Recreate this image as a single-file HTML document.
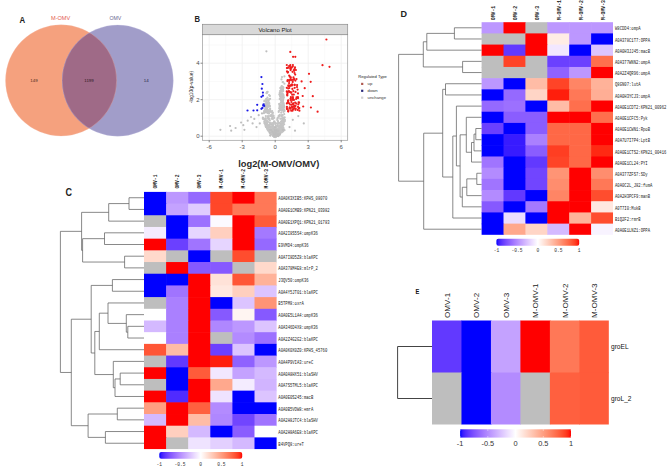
<!DOCTYPE html>
<html><head><meta charset="utf-8"><style>
html,body{margin:0;padding:0;background:#fff;}
body{width:667px;height:467px;overflow:hidden;font-family:"Liberation Sans", sans-serif;}
svg{display:block;}
</style></head><body>
<svg width="667" height="467" viewBox="0 0 667 467">
<rect width="667" height="467" fill="#fff"/>
<circle cx="61.1" cy="80.4" r="55.6" fill="#F5A17E"/>
<circle cx="117.7" cy="80.6" r="55.6" fill="#A19DC9"/>
<clipPath id="cl"><circle cx="61.1" cy="80.4" r="55.6"/></clipPath>
<circle cx="117.7" cy="80.6" r="55.6" fill="#9F6A87" clip-path="url(#cl)"/>
<circle cx="61.1" cy="80.4" r="55.6" fill="none" stroke="#F2C0B0" stroke-opacity="0.45" stroke-width="0.6"/>
<circle cx="117.7" cy="80.6" r="55.6" fill="none" stroke="#C8C4E4" stroke-opacity="0.45" stroke-width="0.6"/>
<text transform="translate(19.4 23.3) scale(0.9 1)" font-family='"Liberation Sans", sans-serif' font-weight="bold" font-size="8.7" fill="#222">A</text>
<text x="51" y="20.2" font-family='"Liberation Sans", sans-serif' font-size="5.6" fill="#E45C50">M-OMV</text>
<text x="109.5" y="20.2" font-family='"Liberation Sans", sans-serif' font-size="5.2" fill="#6A6690">OMV</text>
<text x="34" y="82.2" text-anchor="middle" font-family='"Liberation Sans", sans-serif' font-size="4.4" fill="#4a2a1a">149</text>
<text x="89" y="82.2" text-anchor="middle" font-family='"Liberation Sans", sans-serif' font-size="4.4" fill="#2a1520">1199</text>
<text x="146.2" y="82.2" text-anchor="middle" font-family='"Liberation Sans", sans-serif' font-size="4.4" fill="#222244">14</text>
<rect x="202.5" y="34.7" width="145.2" height="105.60000000000001" fill="#fff"/>
<line x1="225.7" y1="34.7" x2="225.7" y2="140.3" stroke="#F6F6F6" stroke-width="0.6"/>
<line x1="258.7" y1="34.7" x2="258.7" y2="140.3" stroke="#F6F6F6" stroke-width="0.6"/>
<line x1="291.7" y1="34.7" x2="291.7" y2="140.3" stroke="#F6F6F6" stroke-width="0.6"/>
<line x1="324.7" y1="34.7" x2="324.7" y2="140.3" stroke="#F6F6F6" stroke-width="0.6"/>
<line x1="202.5" y1="117.94999999999999" x2="347.7" y2="117.94999999999999" stroke="#F6F6F6" stroke-width="0.6"/>
<line x1="202.5" y1="81.44999999999999" x2="347.7" y2="81.44999999999999" stroke="#F6F6F6" stroke-width="0.6"/>
<line x1="202.5" y1="44.94999999999999" x2="347.7" y2="44.94999999999999" stroke="#F6F6F6" stroke-width="0.6"/>
<line x1="209.2" y1="34.7" x2="209.2" y2="140.3" stroke="#EFEFEF" stroke-width="0.8"/>
<line x1="242.2" y1="34.7" x2="242.2" y2="140.3" stroke="#EFEFEF" stroke-width="0.8"/>
<line x1="275.2" y1="34.7" x2="275.2" y2="140.3" stroke="#EFEFEF" stroke-width="0.8"/>
<line x1="308.2" y1="34.7" x2="308.2" y2="140.3" stroke="#EFEFEF" stroke-width="0.8"/>
<line x1="341.2" y1="34.7" x2="341.2" y2="140.3" stroke="#EFEFEF" stroke-width="0.8"/>
<line x1="202.5" y1="136.2" x2="347.7" y2="136.2" stroke="#EFEFEF" stroke-width="0.8"/>
<line x1="202.5" y1="99.69999999999999" x2="347.7" y2="99.69999999999999" stroke="#EFEFEF" stroke-width="0.8"/>
<line x1="202.5" y1="63.19999999999999" x2="347.7" y2="63.19999999999999" stroke="#EFEFEF" stroke-width="0.8"/>
<circle cx="271.2" cy="112.0" r="1.1" fill="#C4C4C4"/>
<circle cx="268.0" cy="126.3" r="1.1" fill="#C4C4C4"/>
<circle cx="274.5" cy="136.1" r="1.1" fill="#C4C4C4"/>
<circle cx="267.8" cy="130.0" r="1.1" fill="#C4C4C4"/>
<circle cx="276.3" cy="136.1" r="1.1" fill="#C4C4C4"/>
<circle cx="265.7" cy="120.3" r="1.1" fill="#C4C4C4"/>
<circle cx="275.8" cy="129.1" r="1.1" fill="#C4C4C4"/>
<circle cx="269.2" cy="106.1" r="1.1" fill="#C4C4C4"/>
<circle cx="271.9" cy="130.4" r="1.1" fill="#C4C4C4"/>
<circle cx="263.5" cy="119.1" r="1.1" fill="#C4C4C4"/>
<circle cx="267.1" cy="124.7" r="1.1" fill="#C4C4C4"/>
<circle cx="265.7" cy="107.3" r="1.1" fill="#C4C4C4"/>
<circle cx="272.9" cy="118.9" r="1.1" fill="#C4C4C4"/>
<circle cx="275.8" cy="134.3" r="1.1" fill="#C4C4C4"/>
<circle cx="265.4" cy="107.7" r="1.1" fill="#C4C4C4"/>
<circle cx="262.9" cy="117.5" r="1.1" fill="#C4C4C4"/>
<circle cx="269.8" cy="126.7" r="1.1" fill="#C4C4C4"/>
<circle cx="273.4" cy="134.7" r="1.1" fill="#C4C4C4"/>
<circle cx="266.8" cy="111.9" r="1.1" fill="#C4C4C4"/>
<circle cx="275.2" cy="135.4" r="1.1" fill="#C4C4C4"/>
<circle cx="274.1" cy="128.7" r="1.1" fill="#C4C4C4"/>
<circle cx="273.0" cy="134.1" r="1.1" fill="#C4C4C4"/>
<circle cx="268.6" cy="112.3" r="1.1" fill="#C4C4C4"/>
<circle cx="267.7" cy="126.6" r="1.1" fill="#C4C4C4"/>
<circle cx="276.1" cy="136.2" r="1.1" fill="#C4C4C4"/>
<circle cx="275.8" cy="135.9" r="1.1" fill="#C4C4C4"/>
<circle cx="275.8" cy="131.1" r="1.1" fill="#C4C4C4"/>
<circle cx="275.6" cy="130.2" r="1.1" fill="#C4C4C4"/>
<circle cx="266.7" cy="124.6" r="1.1" fill="#C4C4C4"/>
<circle cx="270.3" cy="115.6" r="1.1" fill="#C4C4C4"/>
<circle cx="268.1" cy="118.7" r="1.1" fill="#C4C4C4"/>
<circle cx="274.6" cy="134.4" r="1.1" fill="#C4C4C4"/>
<circle cx="275.3" cy="135.8" r="1.1" fill="#C4C4C4"/>
<circle cx="267.6" cy="121.1" r="1.1" fill="#C4C4C4"/>
<circle cx="265.7" cy="112.3" r="1.1" fill="#C4C4C4"/>
<circle cx="274.5" cy="130.5" r="1.1" fill="#C4C4C4"/>
<circle cx="273.8" cy="130.8" r="1.1" fill="#C4C4C4"/>
<circle cx="274.4" cy="122.2" r="1.1" fill="#C4C4C4"/>
<circle cx="269.0" cy="99.4" r="1.1" fill="#C4C4C4"/>
<circle cx="265.4" cy="111.7" r="1.1" fill="#C4C4C4"/>
<circle cx="272.3" cy="117.2" r="1.1" fill="#C4C4C4"/>
<circle cx="272.3" cy="130.2" r="1.1" fill="#C4C4C4"/>
<circle cx="275.5" cy="127.6" r="1.1" fill="#C4C4C4"/>
<circle cx="272.3" cy="132.4" r="1.1" fill="#C4C4C4"/>
<circle cx="274.7" cy="136.2" r="1.1" fill="#C4C4C4"/>
<circle cx="274.1" cy="121.3" r="1.1" fill="#C4C4C4"/>
<circle cx="267.1" cy="104.3" r="1.1" fill="#C4C4C4"/>
<circle cx="266.3" cy="99.6" r="1.1" fill="#C4C4C4"/>
<circle cx="265.6" cy="110.8" r="1.1" fill="#C4C4C4"/>
<circle cx="268.1" cy="130.1" r="1.1" fill="#C4C4C4"/>
<circle cx="270.1" cy="108.7" r="1.1" fill="#C4C4C4"/>
<circle cx="274.6" cy="135.5" r="1.1" fill="#C4C4C4"/>
<circle cx="273.6" cy="133.7" r="1.1" fill="#C4C4C4"/>
<circle cx="265.2" cy="124.8" r="1.1" fill="#C4C4C4"/>
<circle cx="266.8" cy="108.2" r="1.1" fill="#C4C4C4"/>
<circle cx="267.1" cy="128.7" r="1.1" fill="#C4C4C4"/>
<circle cx="274.1" cy="136.2" r="1.1" fill="#C4C4C4"/>
<circle cx="275.7" cy="131.8" r="1.1" fill="#C4C4C4"/>
<circle cx="267.8" cy="106.6" r="1.1" fill="#C4C4C4"/>
<circle cx="272.8" cy="128.5" r="1.1" fill="#C4C4C4"/>
<circle cx="267.1" cy="108.6" r="1.1" fill="#C4C4C4"/>
<circle cx="267.6" cy="112.6" r="1.1" fill="#C4C4C4"/>
<circle cx="272.2" cy="123.0" r="1.1" fill="#C4C4C4"/>
<circle cx="272.6" cy="126.8" r="1.1" fill="#C4C4C4"/>
<circle cx="262.9" cy="118.0" r="1.1" fill="#C4C4C4"/>
<circle cx="273.9" cy="136.1" r="1.1" fill="#C4C4C4"/>
<circle cx="272.7" cy="134.5" r="1.1" fill="#C4C4C4"/>
<circle cx="274.1" cy="136.1" r="1.1" fill="#C4C4C4"/>
<circle cx="273.8" cy="122.7" r="1.1" fill="#C4C4C4"/>
<circle cx="271.6" cy="131.6" r="1.1" fill="#C4C4C4"/>
<circle cx="273.3" cy="129.7" r="1.1" fill="#C4C4C4"/>
<circle cx="272.6" cy="113.1" r="1.1" fill="#C4C4C4"/>
<circle cx="273.8" cy="130.9" r="1.1" fill="#C4C4C4"/>
<circle cx="275.0" cy="131.8" r="1.1" fill="#C4C4C4"/>
<circle cx="275.6" cy="134.2" r="1.1" fill="#C4C4C4"/>
<circle cx="272.9" cy="126.7" r="1.1" fill="#C4C4C4"/>
<circle cx="268.0" cy="125.5" r="1.1" fill="#C4C4C4"/>
<circle cx="266.0" cy="127.1" r="1.1" fill="#C4C4C4"/>
<circle cx="275.0" cy="136.1" r="1.1" fill="#C4C4C4"/>
<circle cx="274.2" cy="127.7" r="1.1" fill="#C4C4C4"/>
<circle cx="275.1" cy="136.2" r="1.1" fill="#C4C4C4"/>
<circle cx="271.7" cy="127.2" r="1.1" fill="#C4C4C4"/>
<circle cx="268.8" cy="116.3" r="1.1" fill="#C4C4C4"/>
<circle cx="269.6" cy="124.3" r="1.1" fill="#C4C4C4"/>
<circle cx="266.3" cy="122.0" r="1.1" fill="#C4C4C4"/>
<circle cx="271.8" cy="124.8" r="1.1" fill="#C4C4C4"/>
<circle cx="276.2" cy="134.8" r="1.1" fill="#C4C4C4"/>
<circle cx="273.2" cy="115.4" r="1.1" fill="#C4C4C4"/>
<circle cx="272.9" cy="133.0" r="1.1" fill="#C4C4C4"/>
<circle cx="271.2" cy="133.6" r="1.1" fill="#C4C4C4"/>
<circle cx="274.2" cy="136.2" r="1.1" fill="#C4C4C4"/>
<circle cx="266.0" cy="108.4" r="1.1" fill="#C4C4C4"/>
<circle cx="265.6" cy="118.4" r="1.1" fill="#C4C4C4"/>
<circle cx="273.9" cy="136.0" r="1.1" fill="#C4C4C4"/>
<circle cx="268.6" cy="119.0" r="1.1" fill="#C4C4C4"/>
<circle cx="269.3" cy="124.9" r="1.1" fill="#C4C4C4"/>
<circle cx="273.4" cy="133.4" r="1.1" fill="#C4C4C4"/>
<circle cx="266.6" cy="104.4" r="1.1" fill="#C4C4C4"/>
<circle cx="265.8" cy="116.1" r="1.1" fill="#C4C4C4"/>
<circle cx="273.5" cy="134.8" r="1.1" fill="#C4C4C4"/>
<circle cx="276.1" cy="135.9" r="1.1" fill="#C4C4C4"/>
<circle cx="269.8" cy="131.2" r="1.1" fill="#C4C4C4"/>
<circle cx="273.7" cy="136.2" r="1.1" fill="#C4C4C4"/>
<circle cx="273.7" cy="134.5" r="1.1" fill="#C4C4C4"/>
<circle cx="274.9" cy="122.7" r="1.1" fill="#C4C4C4"/>
<circle cx="266.7" cy="106.5" r="1.1" fill="#C4C4C4"/>
<circle cx="274.2" cy="122.2" r="1.1" fill="#C4C4C4"/>
<circle cx="275.8" cy="135.8" r="1.1" fill="#C4C4C4"/>
<circle cx="274.3" cy="130.3" r="1.1" fill="#C4C4C4"/>
<circle cx="273.7" cy="132.3" r="1.1" fill="#C4C4C4"/>
<circle cx="266.2" cy="126.6" r="1.1" fill="#C4C4C4"/>
<circle cx="271.7" cy="114.6" r="1.1" fill="#C4C4C4"/>
<circle cx="269.7" cy="127.5" r="1.1" fill="#C4C4C4"/>
<circle cx="267.2" cy="102.6" r="1.1" fill="#C4C4C4"/>
<circle cx="267.5" cy="107.3" r="1.1" fill="#C4C4C4"/>
<circle cx="271.1" cy="131.0" r="1.1" fill="#C4C4C4"/>
<circle cx="274.2" cy="136.1" r="1.1" fill="#C4C4C4"/>
<circle cx="271.8" cy="134.2" r="1.1" fill="#C4C4C4"/>
<circle cx="269.3" cy="125.2" r="1.1" fill="#C4C4C4"/>
<circle cx="274.0" cy="136.2" r="1.1" fill="#C4C4C4"/>
<circle cx="266.3" cy="104.6" r="1.1" fill="#C4C4C4"/>
<circle cx="275.8" cy="131.0" r="1.1" fill="#C4C4C4"/>
<circle cx="274.4" cy="135.7" r="1.1" fill="#C4C4C4"/>
<circle cx="264.1" cy="112.2" r="1.1" fill="#C4C4C4"/>
<circle cx="276.1" cy="136.0" r="1.1" fill="#C4C4C4"/>
<circle cx="265.7" cy="118.7" r="1.1" fill="#C4C4C4"/>
<circle cx="268.3" cy="127.6" r="1.1" fill="#C4C4C4"/>
<circle cx="269.8" cy="106.4" r="1.1" fill="#C4C4C4"/>
<circle cx="274.9" cy="136.0" r="1.1" fill="#C4C4C4"/>
<circle cx="273.9" cy="134.9" r="1.1" fill="#C4C4C4"/>
<circle cx="270.7" cy="115.6" r="1.1" fill="#C4C4C4"/>
<circle cx="273.5" cy="134.9" r="1.1" fill="#C4C4C4"/>
<circle cx="270.5" cy="129.4" r="1.1" fill="#C4C4C4"/>
<circle cx="271.9" cy="118.8" r="1.1" fill="#C4C4C4"/>
<circle cx="272.3" cy="132.0" r="1.1" fill="#C4C4C4"/>
<circle cx="274.4" cy="136.0" r="1.1" fill="#C4C4C4"/>
<circle cx="267.8" cy="102.7" r="1.1" fill="#C4C4C4"/>
<circle cx="271.0" cy="124.6" r="1.1" fill="#C4C4C4"/>
<circle cx="273.2" cy="124.2" r="1.1" fill="#C4C4C4"/>
<circle cx="272.6" cy="133.7" r="1.1" fill="#C4C4C4"/>
<circle cx="267.9" cy="106.8" r="1.1" fill="#C4C4C4"/>
<circle cx="266.1" cy="101.7" r="1.1" fill="#C4C4C4"/>
<circle cx="268.2" cy="113.3" r="1.1" fill="#C4C4C4"/>
<circle cx="274.7" cy="127.8" r="1.1" fill="#C4C4C4"/>
<circle cx="274.6" cy="135.6" r="1.1" fill="#C4C4C4"/>
<circle cx="272.9" cy="133.9" r="1.1" fill="#C4C4C4"/>
<circle cx="267.5" cy="111.2" r="1.1" fill="#C4C4C4"/>
<circle cx="263.9" cy="113.2" r="1.1" fill="#C4C4C4"/>
<circle cx="270.1" cy="98.8" r="1.1" fill="#C4C4C4"/>
<circle cx="265.0" cy="119.0" r="1.1" fill="#C4C4C4"/>
<circle cx="265.2" cy="120.1" r="1.1" fill="#C4C4C4"/>
<circle cx="268.5" cy="131.0" r="1.1" fill="#C4C4C4"/>
<circle cx="273.8" cy="136.0" r="1.1" fill="#C4C4C4"/>
<circle cx="275.6" cy="135.0" r="1.1" fill="#C4C4C4"/>
<circle cx="275.4" cy="134.0" r="1.1" fill="#C4C4C4"/>
<circle cx="273.7" cy="136.2" r="1.1" fill="#C4C4C4"/>
<circle cx="276.1" cy="136.1" r="1.1" fill="#C4C4C4"/>
<circle cx="264.4" cy="111.2" r="1.1" fill="#C4C4C4"/>
<circle cx="266.6" cy="103.7" r="1.1" fill="#C4C4C4"/>
<circle cx="274.0" cy="133.6" r="1.1" fill="#C4C4C4"/>
<circle cx="276.2" cy="134.6" r="1.1" fill="#C4C4C4"/>
<circle cx="272.9" cy="131.2" r="1.1" fill="#C4C4C4"/>
<circle cx="267.1" cy="123.9" r="1.1" fill="#C4C4C4"/>
<circle cx="273.7" cy="116.0" r="1.1" fill="#C4C4C4"/>
<circle cx="264.5" cy="122.9" r="1.1" fill="#C4C4C4"/>
<circle cx="269.9" cy="111.8" r="1.1" fill="#C4C4C4"/>
<circle cx="272.3" cy="127.2" r="1.1" fill="#C4C4C4"/>
<circle cx="272.5" cy="133.6" r="1.1" fill="#C4C4C4"/>
<circle cx="265.7" cy="126.3" r="1.1" fill="#C4C4C4"/>
<circle cx="265.8" cy="123.3" r="1.1" fill="#C4C4C4"/>
<circle cx="275.7" cy="133.8" r="1.1" fill="#C4C4C4"/>
<circle cx="266.5" cy="123.3" r="1.1" fill="#C4C4C4"/>
<circle cx="274.1" cy="117.9" r="1.1" fill="#C4C4C4"/>
<circle cx="269.0" cy="106.1" r="1.1" fill="#C4C4C4"/>
<circle cx="273.3" cy="132.1" r="1.1" fill="#C4C4C4"/>
<circle cx="264.7" cy="123.4" r="1.1" fill="#C4C4C4"/>
<circle cx="268.7" cy="118.2" r="1.1" fill="#C4C4C4"/>
<circle cx="272.9" cy="126.0" r="1.1" fill="#C4C4C4"/>
<circle cx="274.0" cy="136.0" r="1.1" fill="#C4C4C4"/>
<circle cx="266.8" cy="99.7" r="1.1" fill="#C4C4C4"/>
<circle cx="271.4" cy="133.8" r="1.1" fill="#C4C4C4"/>
<circle cx="273.4" cy="132.5" r="1.1" fill="#C4C4C4"/>
<circle cx="274.3" cy="136.1" r="1.1" fill="#C4C4C4"/>
<circle cx="271.8" cy="133.7" r="1.1" fill="#C4C4C4"/>
<circle cx="272.8" cy="112.7" r="1.1" fill="#C4C4C4"/>
<circle cx="267.5" cy="104.8" r="1.1" fill="#C4C4C4"/>
<circle cx="274.4" cy="136.0" r="1.1" fill="#C4C4C4"/>
<circle cx="268.9" cy="125.9" r="1.1" fill="#C4C4C4"/>
<circle cx="271.1" cy="116.2" r="1.1" fill="#C4C4C4"/>
<circle cx="267.7" cy="106.1" r="1.1" fill="#C4C4C4"/>
<circle cx="275.8" cy="134.1" r="1.1" fill="#C4C4C4"/>
<circle cx="266.1" cy="106.9" r="1.1" fill="#C4C4C4"/>
<circle cx="274.8" cy="134.5" r="1.1" fill="#C4C4C4"/>
<circle cx="272.1" cy="111.0" r="1.1" fill="#C4C4C4"/>
<circle cx="274.1" cy="136.2" r="1.1" fill="#C4C4C4"/>
<circle cx="272.0" cy="129.5" r="1.1" fill="#C4C4C4"/>
<circle cx="269.0" cy="113.5" r="1.1" fill="#C4C4C4"/>
<circle cx="267.4" cy="126.1" r="1.1" fill="#C4C4C4"/>
<circle cx="269.8" cy="120.4" r="1.1" fill="#C4C4C4"/>
<circle cx="266.4" cy="102.7" r="1.1" fill="#C4C4C4"/>
<circle cx="274.1" cy="135.6" r="1.1" fill="#C4C4C4"/>
<circle cx="272.5" cy="132.2" r="1.1" fill="#C4C4C4"/>
<circle cx="275.1" cy="135.1" r="1.1" fill="#C4C4C4"/>
<circle cx="264.4" cy="110.9" r="1.1" fill="#C4C4C4"/>
<circle cx="266.2" cy="105.2" r="1.1" fill="#C4C4C4"/>
<circle cx="273.0" cy="132.7" r="1.1" fill="#C4C4C4"/>
<circle cx="269.0" cy="129.5" r="1.1" fill="#C4C4C4"/>
<circle cx="272.1" cy="116.3" r="1.1" fill="#C4C4C4"/>
<circle cx="272.3" cy="134.3" r="1.1" fill="#C4C4C4"/>
<circle cx="266.4" cy="126.1" r="1.1" fill="#C4C4C4"/>
<circle cx="269.3" cy="103.2" r="1.1" fill="#C4C4C4"/>
<circle cx="267.6" cy="110.1" r="1.1" fill="#C4C4C4"/>
<circle cx="267.5" cy="113.0" r="1.1" fill="#C4C4C4"/>
<circle cx="267.4" cy="128.4" r="1.1" fill="#C4C4C4"/>
<circle cx="275.4" cy="136.1" r="1.1" fill="#C4C4C4"/>
<circle cx="276.1" cy="134.8" r="1.1" fill="#C4C4C4"/>
<circle cx="270.6" cy="124.3" r="1.1" fill="#C4C4C4"/>
<circle cx="267.0" cy="106.3" r="1.1" fill="#C4C4C4"/>
<circle cx="274.2" cy="136.2" r="1.1" fill="#C4C4C4"/>
<circle cx="267.8" cy="128.4" r="1.1" fill="#C4C4C4"/>
<circle cx="274.7" cy="133.3" r="1.1" fill="#C4C4C4"/>
<circle cx="270.9" cy="130.9" r="1.1" fill="#C4C4C4"/>
<circle cx="274.0" cy="134.2" r="1.1" fill="#C4C4C4"/>
<circle cx="266.2" cy="99.1" r="1.1" fill="#C4C4C4"/>
<circle cx="270.1" cy="109.6" r="1.1" fill="#C4C4C4"/>
<circle cx="269.8" cy="122.7" r="1.1" fill="#C4C4C4"/>
<circle cx="265.9" cy="126.1" r="1.1" fill="#C4C4C4"/>
<circle cx="275.3" cy="124.1" r="1.1" fill="#C4C4C4"/>
<circle cx="268.1" cy="116.3" r="1.1" fill="#C4C4C4"/>
<circle cx="274.8" cy="128.9" r="1.1" fill="#C4C4C4"/>
<circle cx="274.1" cy="136.2" r="1.1" fill="#C4C4C4"/>
<circle cx="268.5" cy="101.9" r="1.1" fill="#C4C4C4"/>
<circle cx="268.6" cy="110.6" r="1.1" fill="#C4C4C4"/>
<circle cx="275.0" cy="136.1" r="1.1" fill="#C4C4C4"/>
<circle cx="264.3" cy="121.4" r="1.1" fill="#C4C4C4"/>
<circle cx="275.3" cy="127.6" r="1.1" fill="#C4C4C4"/>
<circle cx="273.5" cy="136.1" r="1.1" fill="#C4C4C4"/>
<circle cx="275.3" cy="135.8" r="1.1" fill="#C4C4C4"/>
<circle cx="266.3" cy="106.4" r="1.1" fill="#C4C4C4"/>
<circle cx="266.3" cy="109.5" r="1.1" fill="#C4C4C4"/>
<circle cx="273.0" cy="125.4" r="1.1" fill="#C4C4C4"/>
<circle cx="274.6" cy="135.7" r="1.1" fill="#C4C4C4"/>
<circle cx="267.2" cy="108.1" r="1.1" fill="#C4C4C4"/>
<circle cx="268.1" cy="112.4" r="1.1" fill="#C4C4C4"/>
<circle cx="267.4" cy="102.9" r="1.1" fill="#C4C4C4"/>
<circle cx="264.9" cy="110.9" r="1.1" fill="#C4C4C4"/>
<circle cx="270.2" cy="131.9" r="1.1" fill="#C4C4C4"/>
<circle cx="271.0" cy="130.1" r="1.1" fill="#C4C4C4"/>
<circle cx="273.4" cy="134.0" r="1.1" fill="#C4C4C4"/>
<circle cx="269.4" cy="118.8" r="1.1" fill="#C4C4C4"/>
<circle cx="274.8" cy="134.0" r="1.1" fill="#C4C4C4"/>
<circle cx="267.6" cy="117.4" r="1.1" fill="#C4C4C4"/>
<circle cx="268.0" cy="128.3" r="1.1" fill="#C4C4C4"/>
<circle cx="267.2" cy="110.1" r="1.1" fill="#C4C4C4"/>
<circle cx="275.8" cy="133.0" r="1.1" fill="#C4C4C4"/>
<circle cx="271.2" cy="132.7" r="1.1" fill="#C4C4C4"/>
<circle cx="272.2" cy="130.7" r="1.1" fill="#C4C4C4"/>
<circle cx="268.0" cy="122.1" r="1.1" fill="#C4C4C4"/>
<circle cx="262.9" cy="118.7" r="1.1" fill="#C4C4C4"/>
<circle cx="267.6" cy="104.1" r="1.1" fill="#C4C4C4"/>
<circle cx="270.8" cy="128.7" r="1.1" fill="#C4C4C4"/>
<circle cx="275.2" cy="133.4" r="1.1" fill="#C4C4C4"/>
<circle cx="267.4" cy="128.5" r="1.1" fill="#C4C4C4"/>
<circle cx="272.4" cy="131.6" r="1.1" fill="#C4C4C4"/>
<circle cx="269.4" cy="131.4" r="1.1" fill="#C4C4C4"/>
<circle cx="266.3" cy="106.6" r="1.1" fill="#C4C4C4"/>
<circle cx="267.7" cy="116.3" r="1.1" fill="#C4C4C4"/>
<circle cx="272.5" cy="127.0" r="1.1" fill="#C4C4C4"/>
<circle cx="274.9" cy="136.2" r="1.1" fill="#C4C4C4"/>
<circle cx="270.4" cy="128.3" r="1.1" fill="#C4C4C4"/>
<circle cx="273.6" cy="136.2" r="1.1" fill="#C4C4C4"/>
<circle cx="270.3" cy="127.2" r="1.1" fill="#C4C4C4"/>
<circle cx="270.1" cy="132.0" r="1.1" fill="#C4C4C4"/>
<circle cx="273.7" cy="131.2" r="1.1" fill="#C4C4C4"/>
<circle cx="270.5" cy="111.1" r="1.1" fill="#C4C4C4"/>
<circle cx="274.5" cy="136.2" r="1.1" fill="#C4C4C4"/>
<circle cx="274.0" cy="127.2" r="1.1" fill="#C4C4C4"/>
<circle cx="273.2" cy="124.3" r="1.1" fill="#C4C4C4"/>
<circle cx="263.5" cy="118.4" r="1.1" fill="#C4C4C4"/>
<circle cx="268.1" cy="100.2" r="1.1" fill="#C4C4C4"/>
<circle cx="266.5" cy="122.6" r="1.1" fill="#C4C4C4"/>
<circle cx="269.7" cy="105.7" r="1.1" fill="#C4C4C4"/>
<circle cx="272.5" cy="131.8" r="1.1" fill="#C4C4C4"/>
<circle cx="275.6" cy="136.1" r="1.1" fill="#C4C4C4"/>
<circle cx="265.8" cy="120.7" r="1.1" fill="#C4C4C4"/>
<circle cx="268.7" cy="110.4" r="1.1" fill="#C4C4C4"/>
<circle cx="269.1" cy="103.9" r="1.1" fill="#C4C4C4"/>
<circle cx="273.9" cy="135.8" r="1.1" fill="#C4C4C4"/>
<circle cx="265.0" cy="109.3" r="1.1" fill="#C4C4C4"/>
<circle cx="276.0" cy="135.6" r="1.1" fill="#C4C4C4"/>
<circle cx="266.3" cy="111.6" r="1.1" fill="#C4C4C4"/>
<circle cx="269.4" cy="131.9" r="1.1" fill="#C4C4C4"/>
<circle cx="273.0" cy="135.6" r="1.1" fill="#C4C4C4"/>
<circle cx="270.8" cy="123.3" r="1.1" fill="#C4C4C4"/>
<circle cx="275.7" cy="135.4" r="1.1" fill="#C4C4C4"/>
<circle cx="271.8" cy="127.3" r="1.1" fill="#C4C4C4"/>
<circle cx="265.3" cy="119.8" r="1.1" fill="#C4C4C4"/>
<circle cx="267.7" cy="112.0" r="1.1" fill="#C4C4C4"/>
<circle cx="266.7" cy="126.9" r="1.1" fill="#C4C4C4"/>
<circle cx="273.4" cy="133.8" r="1.1" fill="#C4C4C4"/>
<circle cx="281.7" cy="110.7" r="1.1" fill="#C4C4C4"/>
<circle cx="283.2" cy="121.3" r="1.1" fill="#C4C4C4"/>
<circle cx="276.1" cy="128.8" r="1.1" fill="#C4C4C4"/>
<circle cx="284.8" cy="121.3" r="1.1" fill="#C4C4C4"/>
<circle cx="275.4" cy="136.1" r="1.1" fill="#C4C4C4"/>
<circle cx="281.8" cy="115.6" r="1.1" fill="#C4C4C4"/>
<circle cx="275.9" cy="135.8" r="1.1" fill="#C4C4C4"/>
<circle cx="274.4" cy="136.0" r="1.1" fill="#C4C4C4"/>
<circle cx="277.5" cy="131.1" r="1.1" fill="#C4C4C4"/>
<circle cx="284.2" cy="124.3" r="1.1" fill="#C4C4C4"/>
<circle cx="279.6" cy="134.2" r="1.1" fill="#C4C4C4"/>
<circle cx="283.2" cy="130.7" r="1.1" fill="#C4C4C4"/>
<circle cx="282.9" cy="123.3" r="1.1" fill="#C4C4C4"/>
<circle cx="283.2" cy="99.2" r="1.1" fill="#C4C4C4"/>
<circle cx="277.7" cy="135.3" r="1.1" fill="#C4C4C4"/>
<circle cx="276.8" cy="135.6" r="1.1" fill="#C4C4C4"/>
<circle cx="275.0" cy="136.1" r="1.1" fill="#C4C4C4"/>
<circle cx="276.5" cy="135.5" r="1.1" fill="#C4C4C4"/>
<circle cx="279.9" cy="131.8" r="1.1" fill="#C4C4C4"/>
<circle cx="276.8" cy="134.1" r="1.1" fill="#C4C4C4"/>
<circle cx="281.9" cy="95.8" r="1.1" fill="#C4C4C4"/>
<circle cx="282.1" cy="125.1" r="1.1" fill="#C4C4C4"/>
<circle cx="281.5" cy="86.8" r="1.1" fill="#C4C4C4"/>
<circle cx="275.1" cy="135.7" r="1.1" fill="#C4C4C4"/>
<circle cx="276.0" cy="135.2" r="1.1" fill="#C4C4C4"/>
<circle cx="283.5" cy="109.4" r="1.1" fill="#C4C4C4"/>
<circle cx="274.8" cy="135.7" r="1.1" fill="#C4C4C4"/>
<circle cx="283.2" cy="130.3" r="1.1" fill="#C4C4C4"/>
<circle cx="280.5" cy="125.3" r="1.1" fill="#C4C4C4"/>
<circle cx="279.2" cy="132.4" r="1.1" fill="#C4C4C4"/>
<circle cx="280.3" cy="118.7" r="1.1" fill="#C4C4C4"/>
<circle cx="283.7" cy="118.9" r="1.1" fill="#C4C4C4"/>
<circle cx="280.0" cy="130.5" r="1.1" fill="#C4C4C4"/>
<circle cx="275.3" cy="135.5" r="1.1" fill="#C4C4C4"/>
<circle cx="274.3" cy="136.1" r="1.1" fill="#C4C4C4"/>
<circle cx="276.9" cy="135.9" r="1.1" fill="#C4C4C4"/>
<circle cx="282.5" cy="110.1" r="1.1" fill="#C4C4C4"/>
<circle cx="279.8" cy="104.9" r="1.1" fill="#C4C4C4"/>
<circle cx="281.0" cy="130.6" r="1.1" fill="#C4C4C4"/>
<circle cx="281.8" cy="100.1" r="1.1" fill="#C4C4C4"/>
<circle cx="274.5" cy="135.6" r="1.1" fill="#C4C4C4"/>
<circle cx="276.2" cy="136.2" r="1.1" fill="#C4C4C4"/>
<circle cx="280.1" cy="96.5" r="1.1" fill="#C4C4C4"/>
<circle cx="279.2" cy="104.0" r="1.1" fill="#C4C4C4"/>
<circle cx="282.5" cy="101.8" r="1.1" fill="#C4C4C4"/>
<circle cx="279.9" cy="125.8" r="1.1" fill="#C4C4C4"/>
<circle cx="279.4" cy="134.1" r="1.1" fill="#C4C4C4"/>
<circle cx="277.0" cy="132.9" r="1.1" fill="#C4C4C4"/>
<circle cx="282.0" cy="107.1" r="1.1" fill="#C4C4C4"/>
<circle cx="281.0" cy="123.7" r="1.1" fill="#C4C4C4"/>
<circle cx="274.6" cy="135.7" r="1.1" fill="#C4C4C4"/>
<circle cx="282.4" cy="88.2" r="1.1" fill="#C4C4C4"/>
<circle cx="282.2" cy="118.1" r="1.1" fill="#C4C4C4"/>
<circle cx="275.8" cy="133.8" r="1.1" fill="#C4C4C4"/>
<circle cx="277.2" cy="120.0" r="1.1" fill="#C4C4C4"/>
<circle cx="275.1" cy="136.2" r="1.1" fill="#C4C4C4"/>
<circle cx="284.9" cy="119.9" r="1.1" fill="#C4C4C4"/>
<circle cx="278.5" cy="126.7" r="1.1" fill="#C4C4C4"/>
<circle cx="280.9" cy="90.7" r="1.1" fill="#C4C4C4"/>
<circle cx="279.9" cy="125.4" r="1.1" fill="#C4C4C4"/>
<circle cx="274.4" cy="136.1" r="1.1" fill="#C4C4C4"/>
<circle cx="276.3" cy="136.2" r="1.1" fill="#C4C4C4"/>
<circle cx="281.8" cy="129.6" r="1.1" fill="#C4C4C4"/>
<circle cx="280.2" cy="127.0" r="1.1" fill="#C4C4C4"/>
<circle cx="281.2" cy="99.3" r="1.1" fill="#C4C4C4"/>
<circle cx="276.4" cy="135.8" r="1.1" fill="#C4C4C4"/>
<circle cx="275.5" cy="136.2" r="1.1" fill="#C4C4C4"/>
<circle cx="279.7" cy="130.0" r="1.1" fill="#C4C4C4"/>
<circle cx="284.2" cy="110.4" r="1.1" fill="#C4C4C4"/>
<circle cx="282.6" cy="89.9" r="1.1" fill="#C4C4C4"/>
<circle cx="283.6" cy="103.1" r="1.1" fill="#C4C4C4"/>
<circle cx="279.0" cy="129.4" r="1.1" fill="#C4C4C4"/>
<circle cx="275.4" cy="136.2" r="1.1" fill="#C4C4C4"/>
<circle cx="274.8" cy="136.1" r="1.1" fill="#C4C4C4"/>
<circle cx="279.5" cy="128.4" r="1.1" fill="#C4C4C4"/>
<circle cx="281.4" cy="107.6" r="1.1" fill="#C4C4C4"/>
<circle cx="278.7" cy="112.0" r="1.1" fill="#C4C4C4"/>
<circle cx="283.8" cy="110.9" r="1.1" fill="#C4C4C4"/>
<circle cx="275.1" cy="136.2" r="1.1" fill="#C4C4C4"/>
<circle cx="278.9" cy="116.8" r="1.1" fill="#C4C4C4"/>
<circle cx="283.8" cy="104.3" r="1.1" fill="#C4C4C4"/>
<circle cx="282.0" cy="106.1" r="1.1" fill="#C4C4C4"/>
<circle cx="283.7" cy="106.1" r="1.1" fill="#C4C4C4"/>
<circle cx="281.0" cy="90.6" r="1.1" fill="#C4C4C4"/>
<circle cx="278.6" cy="116.1" r="1.1" fill="#C4C4C4"/>
<circle cx="279.6" cy="94.5" r="1.1" fill="#C4C4C4"/>
<circle cx="279.2" cy="132.5" r="1.1" fill="#C4C4C4"/>
<circle cx="277.0" cy="134.0" r="1.1" fill="#C4C4C4"/>
<circle cx="281.8" cy="130.6" r="1.1" fill="#C4C4C4"/>
<circle cx="283.3" cy="123.6" r="1.1" fill="#C4C4C4"/>
<circle cx="283.5" cy="117.7" r="1.1" fill="#C4C4C4"/>
<circle cx="276.0" cy="136.2" r="1.1" fill="#C4C4C4"/>
<circle cx="280.0" cy="95.0" r="1.1" fill="#C4C4C4"/>
<circle cx="282.9" cy="106.1" r="1.1" fill="#C4C4C4"/>
<circle cx="276.1" cy="135.9" r="1.1" fill="#C4C4C4"/>
<circle cx="278.4" cy="131.9" r="1.1" fill="#C4C4C4"/>
<circle cx="282.2" cy="86.6" r="1.1" fill="#C4C4C4"/>
<circle cx="282.8" cy="125.6" r="1.1" fill="#C4C4C4"/>
<circle cx="277.1" cy="129.2" r="1.1" fill="#C4C4C4"/>
<circle cx="280.8" cy="88.1" r="1.1" fill="#C4C4C4"/>
<circle cx="283.5" cy="95.9" r="1.1" fill="#C4C4C4"/>
<circle cx="276.8" cy="126.0" r="1.1" fill="#C4C4C4"/>
<circle cx="280.5" cy="126.4" r="1.1" fill="#C4C4C4"/>
<circle cx="283.9" cy="105.9" r="1.1" fill="#C4C4C4"/>
<circle cx="275.3" cy="133.6" r="1.1" fill="#C4C4C4"/>
<circle cx="280.4" cy="87.9" r="1.1" fill="#C4C4C4"/>
<circle cx="283.0" cy="89.9" r="1.1" fill="#C4C4C4"/>
<circle cx="281.1" cy="96.0" r="1.1" fill="#C4C4C4"/>
<circle cx="277.5" cy="134.5" r="1.1" fill="#C4C4C4"/>
<circle cx="282.0" cy="127.6" r="1.1" fill="#C4C4C4"/>
<circle cx="276.7" cy="134.6" r="1.1" fill="#C4C4C4"/>
<circle cx="281.8" cy="94.7" r="1.1" fill="#C4C4C4"/>
<circle cx="282.4" cy="93.3" r="1.1" fill="#C4C4C4"/>
<circle cx="276.6" cy="135.5" r="1.1" fill="#C4C4C4"/>
<circle cx="275.0" cy="134.8" r="1.1" fill="#C4C4C4"/>
<circle cx="277.5" cy="118.8" r="1.1" fill="#C4C4C4"/>
<circle cx="275.3" cy="136.1" r="1.1" fill="#C4C4C4"/>
<circle cx="277.4" cy="134.8" r="1.1" fill="#C4C4C4"/>
<circle cx="276.9" cy="132.8" r="1.1" fill="#C4C4C4"/>
<circle cx="281.1" cy="121.8" r="1.1" fill="#C4C4C4"/>
<circle cx="283.1" cy="100.9" r="1.1" fill="#C4C4C4"/>
<circle cx="279.8" cy="92.7" r="1.1" fill="#C4C4C4"/>
<circle cx="276.3" cy="136.1" r="1.1" fill="#C4C4C4"/>
<circle cx="276.5" cy="128.9" r="1.1" fill="#C4C4C4"/>
<circle cx="279.0" cy="123.0" r="1.1" fill="#C4C4C4"/>
<circle cx="278.0" cy="134.2" r="1.1" fill="#C4C4C4"/>
<circle cx="280.3" cy="110.0" r="1.1" fill="#C4C4C4"/>
<circle cx="279.8" cy="114.8" r="1.1" fill="#C4C4C4"/>
<circle cx="281.2" cy="97.3" r="1.1" fill="#C4C4C4"/>
<circle cx="277.2" cy="125.8" r="1.1" fill="#C4C4C4"/>
<circle cx="278.2" cy="126.2" r="1.1" fill="#C4C4C4"/>
<circle cx="279.5" cy="106.1" r="1.1" fill="#C4C4C4"/>
<circle cx="279.8" cy="122.8" r="1.1" fill="#C4C4C4"/>
<circle cx="282.1" cy="94.8" r="1.1" fill="#C4C4C4"/>
<circle cx="278.0" cy="121.2" r="1.1" fill="#C4C4C4"/>
<circle cx="276.2" cy="135.8" r="1.1" fill="#C4C4C4"/>
<circle cx="279.7" cy="94.0" r="1.1" fill="#C4C4C4"/>
<circle cx="279.1" cy="128.0" r="1.1" fill="#C4C4C4"/>
<circle cx="275.8" cy="136.2" r="1.1" fill="#C4C4C4"/>
<circle cx="280.0" cy="126.2" r="1.1" fill="#C4C4C4"/>
<circle cx="282.1" cy="102.3" r="1.1" fill="#C4C4C4"/>
<circle cx="280.2" cy="133.7" r="1.1" fill="#C4C4C4"/>
<circle cx="282.2" cy="93.7" r="1.1" fill="#C4C4C4"/>
<circle cx="276.5" cy="135.6" r="1.1" fill="#C4C4C4"/>
<circle cx="274.9" cy="136.2" r="1.1" fill="#C4C4C4"/>
<circle cx="279.9" cy="127.5" r="1.1" fill="#C4C4C4"/>
<circle cx="281.7" cy="105.7" r="1.1" fill="#C4C4C4"/>
<circle cx="281.4" cy="116.0" r="1.1" fill="#C4C4C4"/>
<circle cx="279.8" cy="110.2" r="1.1" fill="#C4C4C4"/>
<circle cx="283.0" cy="96.2" r="1.1" fill="#C4C4C4"/>
<circle cx="283.3" cy="94.8" r="1.1" fill="#C4C4C4"/>
<circle cx="280.3" cy="106.2" r="1.1" fill="#C4C4C4"/>
<circle cx="282.7" cy="94.6" r="1.1" fill="#C4C4C4"/>
<circle cx="276.6" cy="125.8" r="1.1" fill="#C4C4C4"/>
<circle cx="280.9" cy="88.7" r="1.1" fill="#C4C4C4"/>
<circle cx="276.8" cy="134.9" r="1.1" fill="#C4C4C4"/>
<circle cx="280.7" cy="99.7" r="1.1" fill="#C4C4C4"/>
<circle cx="278.5" cy="134.3" r="1.1" fill="#C4C4C4"/>
<circle cx="281.6" cy="121.0" r="1.1" fill="#C4C4C4"/>
<circle cx="284.0" cy="119.3" r="1.1" fill="#C4C4C4"/>
<circle cx="280.2" cy="106.4" r="1.1" fill="#C4C4C4"/>
<circle cx="284.5" cy="130.2" r="1.1" fill="#C4C4C4"/>
<circle cx="281.8" cy="101.6" r="1.1" fill="#C4C4C4"/>
<circle cx="282.6" cy="131.6" r="1.1" fill="#C4C4C4"/>
<circle cx="278.4" cy="132.7" r="1.1" fill="#C4C4C4"/>
<circle cx="283.7" cy="119.4" r="1.1" fill="#C4C4C4"/>
<circle cx="283.5" cy="112.0" r="1.1" fill="#C4C4C4"/>
<circle cx="276.4" cy="134.4" r="1.1" fill="#C4C4C4"/>
<circle cx="282.2" cy="108.8" r="1.1" fill="#C4C4C4"/>
<circle cx="279.7" cy="94.8" r="1.1" fill="#C4C4C4"/>
<circle cx="281.9" cy="87.7" r="1.1" fill="#C4C4C4"/>
<circle cx="276.3" cy="132.3" r="1.1" fill="#C4C4C4"/>
<circle cx="277.1" cy="136.0" r="1.1" fill="#C4C4C4"/>
<circle cx="283.8" cy="105.9" r="1.1" fill="#C4C4C4"/>
<circle cx="281.3" cy="100.8" r="1.1" fill="#C4C4C4"/>
<circle cx="277.0" cy="134.6" r="1.1" fill="#C4C4C4"/>
<circle cx="275.9" cy="133.7" r="1.1" fill="#C4C4C4"/>
<circle cx="281.5" cy="121.6" r="1.1" fill="#C4C4C4"/>
<circle cx="282.8" cy="87.6" r="1.1" fill="#C4C4C4"/>
<circle cx="274.6" cy="136.2" r="1.1" fill="#C4C4C4"/>
<circle cx="282.7" cy="121.4" r="1.1" fill="#C4C4C4"/>
<circle cx="282.1" cy="87.2" r="1.1" fill="#C4C4C4"/>
<circle cx="275.8" cy="126.0" r="1.1" fill="#C4C4C4"/>
<circle cx="283.4" cy="127.5" r="1.1" fill="#C4C4C4"/>
<circle cx="275.7" cy="136.1" r="1.1" fill="#C4C4C4"/>
<circle cx="283.2" cy="91.1" r="1.1" fill="#C4C4C4"/>
<circle cx="275.0" cy="136.2" r="1.1" fill="#C4C4C4"/>
<circle cx="279.0" cy="134.6" r="1.1" fill="#C4C4C4"/>
<circle cx="280.2" cy="104.9" r="1.1" fill="#C4C4C4"/>
<circle cx="281.8" cy="129.4" r="1.1" fill="#C4C4C4"/>
<circle cx="274.6" cy="136.2" r="1.1" fill="#C4C4C4"/>
<circle cx="280.4" cy="105.7" r="1.1" fill="#C4C4C4"/>
<circle cx="279.8" cy="133.8" r="1.1" fill="#C4C4C4"/>
<circle cx="284.5" cy="111.0" r="1.1" fill="#C4C4C4"/>
<circle cx="281.5" cy="106.2" r="1.1" fill="#C4C4C4"/>
<circle cx="277.6" cy="134.8" r="1.1" fill="#C4C4C4"/>
<circle cx="282.8" cy="122.0" r="1.1" fill="#C4C4C4"/>
<circle cx="284.2" cy="114.2" r="1.1" fill="#C4C4C4"/>
<circle cx="274.6" cy="136.1" r="1.1" fill="#C4C4C4"/>
<circle cx="282.4" cy="97.6" r="1.1" fill="#C4C4C4"/>
<circle cx="279.7" cy="99.0" r="1.1" fill="#C4C4C4"/>
<circle cx="276.2" cy="123.4" r="1.1" fill="#C4C4C4"/>
<circle cx="274.7" cy="135.2" r="1.1" fill="#C4C4C4"/>
<circle cx="275.8" cy="134.7" r="1.1" fill="#C4C4C4"/>
<circle cx="276.1" cy="136.0" r="1.1" fill="#C4C4C4"/>
<circle cx="282.9" cy="119.9" r="1.1" fill="#C4C4C4"/>
<circle cx="281.1" cy="88.4" r="1.1" fill="#C4C4C4"/>
<circle cx="276.7" cy="133.6" r="1.1" fill="#C4C4C4"/>
<circle cx="282.2" cy="103.6" r="1.1" fill="#C4C4C4"/>
<circle cx="280.1" cy="108.7" r="1.1" fill="#C4C4C4"/>
<circle cx="276.0" cy="135.5" r="1.1" fill="#C4C4C4"/>
<circle cx="280.5" cy="95.6" r="1.1" fill="#C4C4C4"/>
<circle cx="282.8" cy="107.8" r="1.1" fill="#C4C4C4"/>
<circle cx="282.0" cy="130.1" r="1.1" fill="#C4C4C4"/>
<circle cx="280.3" cy="94.0" r="1.1" fill="#C4C4C4"/>
<circle cx="277.5" cy="133.2" r="1.1" fill="#C4C4C4"/>
<circle cx="276.5" cy="134.5" r="1.1" fill="#C4C4C4"/>
<circle cx="284.2" cy="110.1" r="1.1" fill="#C4C4C4"/>
<circle cx="282.2" cy="114.9" r="1.1" fill="#C4C4C4"/>
<circle cx="280.2" cy="94.0" r="1.1" fill="#C4C4C4"/>
<circle cx="281.2" cy="112.7" r="1.1" fill="#C4C4C4"/>
<circle cx="280.2" cy="92.5" r="1.1" fill="#C4C4C4"/>
<circle cx="275.8" cy="133.4" r="1.1" fill="#C4C4C4"/>
<circle cx="281.8" cy="126.6" r="1.1" fill="#C4C4C4"/>
<circle cx="281.5" cy="132.4" r="1.1" fill="#C4C4C4"/>
<circle cx="280.3" cy="104.7" r="1.1" fill="#C4C4C4"/>
<circle cx="282.9" cy="118.8" r="1.1" fill="#C4C4C4"/>
<circle cx="276.7" cy="135.4" r="1.1" fill="#C4C4C4"/>
<circle cx="284.7" cy="117.4" r="1.1" fill="#C4C4C4"/>
<circle cx="276.5" cy="132.3" r="1.1" fill="#C4C4C4"/>
<circle cx="283.8" cy="122.2" r="1.1" fill="#C4C4C4"/>
<circle cx="275.0" cy="135.6" r="1.1" fill="#C4C4C4"/>
<circle cx="277.4" cy="135.8" r="1.1" fill="#C4C4C4"/>
<circle cx="279.3" cy="108.0" r="1.1" fill="#C4C4C4"/>
<circle cx="281.3" cy="100.7" r="1.1" fill="#C4C4C4"/>
<circle cx="274.3" cy="136.2" r="1.1" fill="#C4C4C4"/>
<circle cx="275.3" cy="133.5" r="1.1" fill="#C4C4C4"/>
<circle cx="274.8" cy="135.0" r="1.1" fill="#C4C4C4"/>
<circle cx="274.8" cy="135.4" r="1.1" fill="#C4C4C4"/>
<circle cx="283.0" cy="127.9" r="1.1" fill="#C4C4C4"/>
<circle cx="281.6" cy="106.1" r="1.1" fill="#C4C4C4"/>
<circle cx="276.9" cy="136.1" r="1.1" fill="#C4C4C4"/>
<circle cx="274.2" cy="136.0" r="1.1" fill="#C4C4C4"/>
<circle cx="282.5" cy="108.9" r="1.1" fill="#C4C4C4"/>
<circle cx="280.3" cy="108.2" r="1.1" fill="#C4C4C4"/>
<circle cx="283.1" cy="96.6" r="1.1" fill="#C4C4C4"/>
<circle cx="276.8" cy="136.1" r="1.1" fill="#C4C4C4"/>
<circle cx="283.5" cy="107.3" r="1.1" fill="#C4C4C4"/>
<circle cx="282.7" cy="125.5" r="1.1" fill="#C4C4C4"/>
<circle cx="283.1" cy="94.9" r="1.1" fill="#C4C4C4"/>
<circle cx="276.5" cy="132.8" r="1.1" fill="#C4C4C4"/>
<circle cx="281.4" cy="116.0" r="1.1" fill="#C4C4C4"/>
<circle cx="281.5" cy="99.7" r="1.1" fill="#C4C4C4"/>
<circle cx="275.9" cy="135.1" r="1.1" fill="#C4C4C4"/>
<circle cx="282.3" cy="89.9" r="1.1" fill="#C4C4C4"/>
<circle cx="275.3" cy="135.0" r="1.1" fill="#C4C4C4"/>
<circle cx="284.0" cy="129.4" r="1.1" fill="#C4C4C4"/>
<circle cx="278.4" cy="123.7" r="1.1" fill="#C4C4C4"/>
<circle cx="276.0" cy="134.3" r="1.1" fill="#C4C4C4"/>
<circle cx="278.2" cy="122.7" r="1.1" fill="#C4C4C4"/>
<circle cx="276.9" cy="135.7" r="1.1" fill="#C4C4C4"/>
<circle cx="282.6" cy="115.6" r="1.1" fill="#C4C4C4"/>
<circle cx="277.6" cy="133.3" r="1.1" fill="#C4C4C4"/>
<circle cx="280.6" cy="97.9" r="1.1" fill="#C4C4C4"/>
<circle cx="276.7" cy="127.6" r="1.1" fill="#C4C4C4"/>
<circle cx="276.8" cy="129.3" r="1.1" fill="#C4C4C4"/>
<circle cx="284.3" cy="107.2" r="1.1" fill="#C4C4C4"/>
<circle cx="275.3" cy="136.0" r="1.1" fill="#C4C4C4"/>
<circle cx="280.2" cy="90.9" r="1.1" fill="#C4C4C4"/>
<circle cx="279.6" cy="103.9" r="1.1" fill="#C4C4C4"/>
<circle cx="282.6" cy="126.3" r="1.1" fill="#C4C4C4"/>
<circle cx="282.9" cy="105.7" r="1.1" fill="#C4C4C4"/>
<circle cx="280.0" cy="131.5" r="1.1" fill="#C4C4C4"/>
<circle cx="277.8" cy="135.5" r="1.1" fill="#C4C4C4"/>
<circle cx="281.2" cy="110.0" r="1.1" fill="#C4C4C4"/>
<circle cx="280.9" cy="124.8" r="1.1" fill="#C4C4C4"/>
<circle cx="278.9" cy="130.4" r="1.1" fill="#C4C4C4"/>
<circle cx="280.1" cy="95.3" r="1.1" fill="#C4C4C4"/>
<circle cx="281.7" cy="91.1" r="1.1" fill="#C4C4C4"/>
<circle cx="279.9" cy="126.3" r="1.1" fill="#C4C4C4"/>
<circle cx="275.0" cy="136.2" r="1.1" fill="#C4C4C4"/>
<circle cx="276.2" cy="126.3" r="1.1" fill="#C4C4C4"/>
<circle cx="274.1" cy="136.2" r="1.1" fill="#C4C4C4"/>
<circle cx="277.7" cy="117.9" r="1.1" fill="#C4C4C4"/>
<circle cx="282.0" cy="90.9" r="1.1" fill="#C4C4C4"/>
<circle cx="278.8" cy="111.1" r="1.1" fill="#C4C4C4"/>
<circle cx="277.7" cy="124.1" r="1.1" fill="#C4C4C4"/>
<circle cx="280.8" cy="94.0" r="1.1" fill="#C4C4C4"/>
<circle cx="276.7" cy="134.5" r="1.1" fill="#C4C4C4"/>
<circle cx="277.0" cy="131.5" r="1.1" fill="#C4C4C4"/>
<circle cx="279.9" cy="106.4" r="1.1" fill="#C4C4C4"/>
<circle cx="282.5" cy="95.2" r="1.1" fill="#C4C4C4"/>
<circle cx="282.7" cy="99.5" r="1.1" fill="#C4C4C4"/>
<circle cx="283.5" cy="97.4" r="1.1" fill="#C4C4C4"/>
<circle cx="274.8" cy="136.2" r="1.1" fill="#C4C4C4"/>
<circle cx="281.7" cy="95.5" r="1.1" fill="#C4C4C4"/>
<circle cx="281.3" cy="93.9" r="1.1" fill="#C4C4C4"/>
<circle cx="282.9" cy="130.9" r="1.1" fill="#C4C4C4"/>
<circle cx="277.7" cy="133.2" r="1.1" fill="#C4C4C4"/>
<circle cx="281.0" cy="102.6" r="1.1" fill="#C4C4C4"/>
<circle cx="279.2" cy="115.5" r="1.1" fill="#C4C4C4"/>
<circle cx="279.4" cy="134.3" r="1.1" fill="#C4C4C4"/>
<circle cx="275.4" cy="134.6" r="1.1" fill="#C4C4C4"/>
<circle cx="274.3" cy="136.2" r="1.1" fill="#C4C4C4"/>
<circle cx="281.3" cy="128.9" r="1.1" fill="#C4C4C4"/>
<circle cx="283.7" cy="97.7" r="1.1" fill="#C4C4C4"/>
<circle cx="280.3" cy="130.5" r="1.1" fill="#C4C4C4"/>
<circle cx="280.0" cy="128.8" r="1.1" fill="#C4C4C4"/>
<circle cx="281.3" cy="100.1" r="1.1" fill="#C4C4C4"/>
<circle cx="284.0" cy="109.3" r="1.1" fill="#C4C4C4"/>
<circle cx="278.9" cy="128.5" r="1.1" fill="#C4C4C4"/>
<circle cx="276.3" cy="135.9" r="1.1" fill="#C4C4C4"/>
<circle cx="282.1" cy="104.9" r="1.1" fill="#C4C4C4"/>
<circle cx="279.7" cy="132.8" r="1.1" fill="#C4C4C4"/>
<circle cx="278.9" cy="134.0" r="1.1" fill="#C4C4C4"/>
<circle cx="280.8" cy="92.0" r="1.1" fill="#C4C4C4"/>
<circle cx="281.2" cy="118.8" r="1.1" fill="#C4C4C4"/>
<circle cx="283.0" cy="131.2" r="1.1" fill="#C4C4C4"/>
<circle cx="281.6" cy="131.7" r="1.1" fill="#C4C4C4"/>
<circle cx="279.4" cy="108.5" r="1.1" fill="#C4C4C4"/>
<circle cx="276.3" cy="136.2" r="1.1" fill="#BEBEBE"/>
<circle cx="270.0" cy="129.9" r="1.1" fill="#BEBEBE"/>
<circle cx="274.0" cy="133.9" r="1.1" fill="#BEBEBE"/>
<circle cx="275.1" cy="133.5" r="1.1" fill="#BEBEBE"/>
<circle cx="274.6" cy="135.8" r="1.1" fill="#BEBEBE"/>
<circle cx="277.0" cy="135.7" r="1.1" fill="#BEBEBE"/>
<circle cx="273.6" cy="135.1" r="1.1" fill="#BEBEBE"/>
<circle cx="278.2" cy="135.5" r="1.1" fill="#BEBEBE"/>
<circle cx="272.2" cy="131.9" r="1.1" fill="#BEBEBE"/>
<circle cx="276.2" cy="133.6" r="1.1" fill="#BEBEBE"/>
<circle cx="279.2" cy="134.9" r="1.1" fill="#BEBEBE"/>
<circle cx="279.7" cy="134.8" r="1.1" fill="#BEBEBE"/>
<circle cx="274.6" cy="133.8" r="1.1" fill="#BEBEBE"/>
<circle cx="277.0" cy="131.4" r="1.1" fill="#BEBEBE"/>
<circle cx="275.2" cy="134.1" r="1.1" fill="#BEBEBE"/>
<circle cx="270.3" cy="135.4" r="1.1" fill="#BEBEBE"/>
<circle cx="274.2" cy="135.4" r="1.1" fill="#BEBEBE"/>
<circle cx="273.3" cy="132.4" r="1.1" fill="#BEBEBE"/>
<circle cx="273.9" cy="134.1" r="1.1" fill="#BEBEBE"/>
<circle cx="278.4" cy="136.1" r="1.1" fill="#BEBEBE"/>
<circle cx="276.3" cy="135.4" r="1.1" fill="#BEBEBE"/>
<circle cx="274.9" cy="130.2" r="1.1" fill="#BEBEBE"/>
<circle cx="278.1" cy="133.5" r="1.1" fill="#BEBEBE"/>
<circle cx="279.9" cy="133.6" r="1.1" fill="#BEBEBE"/>
<circle cx="275.7" cy="132.2" r="1.1" fill="#BEBEBE"/>
<circle cx="276.0" cy="135.7" r="1.1" fill="#BEBEBE"/>
<circle cx="277.4" cy="135.7" r="1.1" fill="#BEBEBE"/>
<circle cx="277.3" cy="134.1" r="1.1" fill="#BEBEBE"/>
<circle cx="277.2" cy="135.0" r="1.1" fill="#BEBEBE"/>
<circle cx="273.9" cy="135.7" r="1.1" fill="#BEBEBE"/>
<circle cx="276.5" cy="130.1" r="1.1" fill="#BEBEBE"/>
<circle cx="270.4" cy="135.3" r="1.1" fill="#BEBEBE"/>
<circle cx="275.1" cy="127.3" r="1.1" fill="#BEBEBE"/>
<circle cx="269.8" cy="132.9" r="1.1" fill="#BEBEBE"/>
<circle cx="276.3" cy="135.2" r="1.1" fill="#BEBEBE"/>
<circle cx="278.5" cy="130.9" r="1.1" fill="#BEBEBE"/>
<circle cx="282.9" cy="129.9" r="1.1" fill="#BEBEBE"/>
<circle cx="275.2" cy="131.4" r="1.1" fill="#BEBEBE"/>
<circle cx="271.3" cy="130.1" r="1.1" fill="#BEBEBE"/>
<circle cx="275.9" cy="131.2" r="1.1" fill="#BEBEBE"/>
<circle cx="269.9" cy="95.9" r="1.1" fill="#C4C8C4"/>
<circle cx="267.4" cy="97.5" r="1.1" fill="#C4C8C4"/>
<circle cx="267.7" cy="99.5" r="1.1" fill="#C4C8C4"/>
<circle cx="267.6" cy="91.9" r="1.1" fill="#C4C8C4"/>
<circle cx="266.7" cy="93.2" r="1.1" fill="#C4C8C4"/>
<circle cx="264.3" cy="101.2" r="1.1" fill="#C4C8C4"/>
<circle cx="269.1" cy="95.1" r="1.1" fill="#C4C8C4"/>
<circle cx="264.8" cy="100.5" r="1.1" fill="#C4C8C4"/>
<circle cx="267.1" cy="92.1" r="1.1" fill="#C4C8C4"/>
<circle cx="264.9" cy="104.2" r="1.1" fill="#C4C8C4"/>
<circle cx="266.2" cy="99.6" r="1.1" fill="#C4C8C4"/>
<circle cx="268.9" cy="99.8" r="1.1" fill="#C4C8C4"/>
<circle cx="268.9" cy="102.8" r="1.1" fill="#C4C8C4"/>
<circle cx="266.6" cy="92.9" r="1.1" fill="#C4C8C4"/>
<circle cx="282.8" cy="82.2" r="1.1" fill="#C4C8C4"/>
<circle cx="282.8" cy="87.5" r="1.1" fill="#C4C8C4"/>
<circle cx="283.2" cy="88.2" r="1.1" fill="#C4C8C4"/>
<circle cx="281.5" cy="79.4" r="1.1" fill="#C4C8C4"/>
<circle cx="284.4" cy="76.4" r="1.1" fill="#C4C8C4"/>
<circle cx="284.4" cy="83.7" r="1.1" fill="#C4C8C4"/>
<circle cx="281.7" cy="86.1" r="1.1" fill="#C4C8C4"/>
<circle cx="282.0" cy="77.1" r="1.1" fill="#C4C8C4"/>
<circle cx="282.8" cy="82.0" r="1.1" fill="#C4C8C4"/>
<circle cx="283.3" cy="87.3" r="1.1" fill="#C4C8C4"/>
<circle cx="220.4" cy="129.8" r="1.1" fill="#BEBEBE"/>
<circle cx="230.1" cy="126.0" r="1.1" fill="#BEBEBE"/>
<circle cx="231.2" cy="130.7" r="1.1" fill="#BEBEBE"/>
<circle cx="241.1" cy="122.5" r="1.1" fill="#BEBEBE"/>
<circle cx="243.3" cy="125.2" r="1.1" fill="#BEBEBE"/>
<circle cx="247.7" cy="120.7" r="1.1" fill="#BEBEBE"/>
<circle cx="244.4" cy="129.8" r="1.1" fill="#BEBEBE"/>
<circle cx="254.3" cy="118.9" r="1.1" fill="#BEBEBE"/>
<circle cx="256.5" cy="127.1" r="1.1" fill="#BEBEBE"/>
<circle cx="251.0" cy="117.0" r="1.1" fill="#BEBEBE"/>
<circle cx="258.7" cy="115.2" r="1.1" fill="#BEBEBE"/>
<circle cx="259.8" cy="123.4" r="1.1" fill="#BEBEBE"/>
<circle cx="235.6" cy="128.0" r="1.1" fill="#BEBEBE"/>
<circle cx="252.6" cy="123.4" r="1.1" fill="#BEBEBE"/>
<circle cx="262.0" cy="113.4" r="1.1" fill="#BEBEBE"/>
<circle cx="292.8" cy="119.8" r="1.1" fill="#BEBEBE"/>
<circle cx="298.3" cy="116.1" r="1.1" fill="#BEBEBE"/>
<circle cx="289.5" cy="127.1" r="1.1" fill="#BEBEBE"/>
<circle cx="303.8" cy="123.4" r="1.1" fill="#BEBEBE"/>
<circle cx="295.0" cy="130.7" r="1.1" fill="#BEBEBE"/>
<circle cx="266.4" cy="51.3" r="1.1" fill="#BEBEBE"/>
<circle cx="286.8" cy="87.8" r="1.1" fill="#EE1C1C"/>
<circle cx="288.4" cy="86.1" r="1.1" fill="#EE1C1C"/>
<circle cx="291.8" cy="67.4" r="1.1" fill="#EE1C1C"/>
<circle cx="287.5" cy="93.3" r="1.1" fill="#EE1C1C"/>
<circle cx="289.1" cy="103.3" r="1.1" fill="#EE1C1C"/>
<circle cx="290.7" cy="69.1" r="1.1" fill="#EE1C1C"/>
<circle cx="291.1" cy="92.6" r="1.1" fill="#EE1C1C"/>
<circle cx="293.9" cy="99.9" r="1.1" fill="#EE1C1C"/>
<circle cx="292.2" cy="94.7" r="1.1" fill="#EE1C1C"/>
<circle cx="292.7" cy="81.9" r="1.1" fill="#EE1C1C"/>
<circle cx="298.0" cy="106.9" r="1.1" fill="#EE1C1C"/>
<circle cx="292.8" cy="107.1" r="1.1" fill="#EE1C1C"/>
<circle cx="295.9" cy="70.0" r="1.1" fill="#EE1C1C"/>
<circle cx="292.4" cy="99.8" r="1.1" fill="#EE1C1C"/>
<circle cx="288.4" cy="85.4" r="1.1" fill="#EE1C1C"/>
<circle cx="292.9" cy="97.2" r="1.1" fill="#EE1C1C"/>
<circle cx="295.5" cy="105.8" r="1.1" fill="#EE1C1C"/>
<circle cx="286.8" cy="65.0" r="1.1" fill="#EE1C1C"/>
<circle cx="290.3" cy="65.1" r="1.1" fill="#EE1C1C"/>
<circle cx="290.8" cy="77.4" r="1.1" fill="#EE1C1C"/>
<circle cx="287.2" cy="94.7" r="1.1" fill="#EE1C1C"/>
<circle cx="286.9" cy="103.4" r="1.1" fill="#EE1C1C"/>
<circle cx="293.3" cy="91.1" r="1.1" fill="#EE1C1C"/>
<circle cx="297.1" cy="97.8" r="1.1" fill="#EE1C1C"/>
<circle cx="288.2" cy="67.7" r="1.1" fill="#EE1C1C"/>
<circle cx="288.2" cy="101.0" r="1.1" fill="#EE1C1C"/>
<circle cx="294.3" cy="105.5" r="1.1" fill="#EE1C1C"/>
<circle cx="296.5" cy="79.0" r="1.1" fill="#EE1C1C"/>
<circle cx="290.3" cy="92.2" r="1.1" fill="#EE1C1C"/>
<circle cx="286.9" cy="68.1" r="1.1" fill="#EE1C1C"/>
<circle cx="289.1" cy="91.9" r="1.1" fill="#EE1C1C"/>
<circle cx="289.2" cy="80.9" r="1.1" fill="#EE1C1C"/>
<circle cx="298.8" cy="108.4" r="1.1" fill="#EE1C1C"/>
<circle cx="295.0" cy="67.3" r="1.1" fill="#EE1C1C"/>
<circle cx="289.7" cy="107.4" r="1.1" fill="#EE1C1C"/>
<circle cx="290.5" cy="98.8" r="1.1" fill="#EE1C1C"/>
<circle cx="295.5" cy="91.9" r="1.1" fill="#EE1C1C"/>
<circle cx="292.9" cy="65.0" r="1.1" fill="#EE1C1C"/>
<circle cx="290.6" cy="79.0" r="1.1" fill="#EE1C1C"/>
<circle cx="298.6" cy="102.3" r="1.1" fill="#EE1C1C"/>
<circle cx="298.1" cy="98.1" r="1.1" fill="#EE1C1C"/>
<circle cx="289.2" cy="80.1" r="1.1" fill="#EE1C1C"/>
<circle cx="295.0" cy="105.9" r="1.1" fill="#EE1C1C"/>
<circle cx="292.0" cy="84.4" r="1.1" fill="#EE1C1C"/>
<circle cx="288.9" cy="91.0" r="1.1" fill="#EE1C1C"/>
<circle cx="290.6" cy="70.1" r="1.1" fill="#EE1C1C"/>
<circle cx="293.8" cy="70.0" r="1.1" fill="#EE1C1C"/>
<circle cx="287.7" cy="80.0" r="1.1" fill="#EE1C1C"/>
<circle cx="290.2" cy="108.1" r="1.1" fill="#EE1C1C"/>
<circle cx="287.4" cy="67.8" r="1.1" fill="#EE1C1C"/>
<circle cx="288.4" cy="110.3" r="1.1" fill="#EE1C1C"/>
<circle cx="293.0" cy="104.1" r="1.1" fill="#EE1C1C"/>
<circle cx="295.7" cy="108.6" r="1.1" fill="#EE1C1C"/>
<circle cx="292.4" cy="88.9" r="1.1" fill="#EE1C1C"/>
<circle cx="289.2" cy="75.5" r="1.1" fill="#EE1C1C"/>
<circle cx="290.1" cy="68.1" r="1.1" fill="#EE1C1C"/>
<circle cx="294.6" cy="84.9" r="1.1" fill="#EE1C1C"/>
<circle cx="296.1" cy="99.0" r="1.1" fill="#EE1C1C"/>
<circle cx="292.5" cy="110.7" r="1.1" fill="#EE1C1C"/>
<circle cx="287.2" cy="91.9" r="1.1" fill="#EE1C1C"/>
<circle cx="297.6" cy="89.6" r="1.1" fill="#EE1C1C"/>
<circle cx="289.1" cy="83.1" r="1.1" fill="#EE1C1C"/>
<circle cx="294.7" cy="87.8" r="1.1" fill="#EE1C1C"/>
<circle cx="293.8" cy="79.7" r="1.1" fill="#EE1C1C"/>
<circle cx="289.8" cy="76.7" r="1.1" fill="#EE1C1C"/>
<circle cx="290.8" cy="79.9" r="1.1" fill="#EE1C1C"/>
<circle cx="290.9" cy="100.1" r="1.1" fill="#EE1C1C"/>
<circle cx="292.8" cy="66.5" r="1.1" fill="#EE1C1C"/>
<circle cx="298.0" cy="93.4" r="1.1" fill="#EE1C1C"/>
<circle cx="291.9" cy="85.4" r="1.1" fill="#EE1C1C"/>
<circle cx="290.3" cy="85.3" r="1.1" fill="#EE1C1C"/>
<circle cx="291.2" cy="110.7" r="1.1" fill="#EE1C1C"/>
<circle cx="298.3" cy="104.3" r="1.1" fill="#EE1C1C"/>
<circle cx="287.4" cy="81.1" r="1.1" fill="#EE1C1C"/>
<circle cx="286.9" cy="106.8" r="1.1" fill="#EE1C1C"/>
<circle cx="293.5" cy="77.4" r="1.1" fill="#EE1C1C"/>
<circle cx="288.0" cy="100.9" r="1.1" fill="#EE1C1C"/>
<circle cx="293.0" cy="103.8" r="1.1" fill="#EE1C1C"/>
<circle cx="286.9" cy="108.3" r="1.1" fill="#EE1C1C"/>
<circle cx="299.1" cy="102.7" r="1.1" fill="#EE1C1C"/>
<circle cx="294.4" cy="108.2" r="1.1" fill="#EE1C1C"/>
<circle cx="294.7" cy="68.9" r="1.1" fill="#EE1C1C"/>
<circle cx="290.8" cy="85.6" r="1.1" fill="#EE1C1C"/>
<circle cx="295.4" cy="80.6" r="1.1" fill="#EE1C1C"/>
<circle cx="292.3" cy="98.6" r="1.1" fill="#EE1C1C"/>
<circle cx="286.8" cy="91.4" r="1.1" fill="#EE1C1C"/>
<circle cx="294.5" cy="73.0" r="1.1" fill="#EE1C1C"/>
<circle cx="287.7" cy="72.6" r="1.1" fill="#EE1C1C"/>
<circle cx="291.8" cy="104.7" r="1.1" fill="#EE1C1C"/>
<circle cx="287.9" cy="102.3" r="1.1" fill="#EE1C1C"/>
<circle cx="288.1" cy="111.3" r="1.1" fill="#EE1C1C"/>
<circle cx="292.0" cy="107.1" r="1.1" fill="#EE1C1C"/>
<circle cx="287.0" cy="71.4" r="1.1" fill="#EE1C1C"/>
<circle cx="299.4" cy="110.7" r="1.1" fill="#EE1C1C"/>
<circle cx="288.3" cy="111.3" r="1.1" fill="#EE1C1C"/>
<circle cx="292.0" cy="80.0" r="1.1" fill="#EE1C1C"/>
<circle cx="297.9" cy="97.1" r="1.1" fill="#EE1C1C"/>
<circle cx="293.2" cy="109.0" r="1.1" fill="#EE1C1C"/>
<circle cx="295.2" cy="74.6" r="1.1" fill="#EE1C1C"/>
<circle cx="293.0" cy="109.4" r="1.1" fill="#EE1C1C"/>
<circle cx="290.1" cy="104.6" r="1.1" fill="#EE1C1C"/>
<circle cx="287.3" cy="108.8" r="1.1" fill="#EE1C1C"/>
<circle cx="289.1" cy="66.0" r="1.1" fill="#EE1C1C"/>
<circle cx="293.8" cy="94.6" r="1.1" fill="#EE1C1C"/>
<circle cx="294.2" cy="70.8" r="1.1" fill="#EE1C1C"/>
<circle cx="297.0" cy="87.0" r="1.1" fill="#EE1C1C"/>
<circle cx="296.3" cy="103.6" r="1.1" fill="#EE1C1C"/>
<circle cx="295.4" cy="109.8" r="1.1" fill="#EE1C1C"/>
<circle cx="293.2" cy="79.5" r="1.1" fill="#EE1C1C"/>
<circle cx="297.1" cy="85.1" r="1.1" fill="#EE1C1C"/>
<circle cx="291.9" cy="106.5" r="1.1" fill="#EE1C1C"/>
<circle cx="291.4" cy="102.0" r="1.1" fill="#EE1C1C"/>
<circle cx="294.3" cy="79.1" r="1.1" fill="#EE1C1C"/>
<circle cx="287.3" cy="95.4" r="1.1" fill="#EE1C1C"/>
<circle cx="293.7" cy="106.5" r="1.1" fill="#EE1C1C"/>
<circle cx="294.6" cy="84.9" r="1.1" fill="#EE1C1C"/>
<circle cx="292.9" cy="98.7" r="1.1" fill="#EE1C1C"/>
<circle cx="295.2" cy="102.6" r="1.1" fill="#EE1C1C"/>
<circle cx="290.7" cy="108.7" r="1.1" fill="#EE1C1C"/>
<circle cx="292.5" cy="71.8" r="1.1" fill="#EE1C1C"/>
<circle cx="291.2" cy="92.5" r="1.1" fill="#EE1C1C"/>
<circle cx="287.0" cy="108.9" r="1.1" fill="#EE1C1C"/>
<circle cx="288.1" cy="72.1" r="1.1" fill="#EE1C1C"/>
<circle cx="288.2" cy="88.5" r="1.1" fill="#EE1C1C"/>
<circle cx="291.1" cy="67.8" r="1.1" fill="#EE1C1C"/>
<circle cx="293.5" cy="103.3" r="1.1" fill="#EE1C1C"/>
<circle cx="288.3" cy="100.3" r="1.1" fill="#EE1C1C"/>
<circle cx="289.6" cy="108.4" r="1.1" fill="#EE1C1C"/>
<circle cx="290.1" cy="66.1" r="1.1" fill="#EE1C1C"/>
<circle cx="290.9" cy="97.2" r="1.1" fill="#EE1C1C"/>
<circle cx="297.7" cy="109.9" r="1.1" fill="#EE1C1C"/>
<circle cx="289.6" cy="85.9" r="1.1" fill="#EE1C1C"/>
<circle cx="296.5" cy="97.3" r="1.1" fill="#EE1C1C"/>
<circle cx="289.3" cy="88.0" r="1.1" fill="#EE1C1C"/>
<circle cx="299.3" cy="108.0" r="1.1" fill="#EE1C1C"/>
<circle cx="290.3" cy="51.9" r="1.1" fill="#EE1C1C"/>
<circle cx="293.1" cy="56.8" r="1.1" fill="#EE1C1C"/>
<circle cx="295.3" cy="56.8" r="1.1" fill="#EE1C1C"/>
<circle cx="309.0" cy="73.8" r="1.1" fill="#EE1C1C"/>
<circle cx="310.7" cy="81.8" r="1.1" fill="#EE1C1C"/>
<circle cx="312.8" cy="96.2" r="1.1" fill="#EE1C1C"/>
<circle cx="304.7" cy="88.2" r="1.1" fill="#EE1C1C"/>
<circle cx="303.2" cy="106.5" r="1.1" fill="#EE1C1C"/>
<circle cx="310.9" cy="107.5" r="1.1" fill="#EE1C1C"/>
<circle cx="317.6" cy="111.7" r="1.1" fill="#EE1C1C"/>
<circle cx="322.5" cy="65.2" r="1.1" fill="#EE1C1C"/>
<circle cx="329.5" cy="66.8" r="1.1" fill="#EE1C1C"/>
<circle cx="326.4" cy="39.5" r="1.1" fill="#EE1C1C"/>
<circle cx="301.6" cy="81.4" r="1.1" fill="#EE1C1C"/>
<circle cx="302.7" cy="96.0" r="1.1" fill="#EE1C1C"/>
<circle cx="261.4" cy="77.1" r="1.1" fill="#1A1AE6"/>
<circle cx="262.4" cy="84.0" r="1.1" fill="#1A1AE6"/>
<circle cx="261.8" cy="88.7" r="1.1" fill="#1A1AE6"/>
<circle cx="262.9" cy="92.6" r="1.1" fill="#1A1AE6"/>
<circle cx="261.4" cy="96.8" r="1.1" fill="#1A1AE6"/>
<circle cx="262.9" cy="95.7" r="1.1" fill="#1A1AE6"/>
<circle cx="257.2" cy="104.8" r="1.1" fill="#1A1AE6"/>
<circle cx="263.2" cy="105.4" r="1.1" fill="#1A1AE6"/>
<circle cx="264.2" cy="105.9" r="1.1" fill="#1A1AE6"/>
<circle cx="262.4" cy="107.9" r="1.1" fill="#1A1AE6"/>
<circle cx="247.5" cy="110.5" r="1.1" fill="#1A1AE6"/>
<circle cx="253.5" cy="110.5" r="1.1" fill="#1A1AE6"/>
<circle cx="257.2" cy="110.3" r="1.1" fill="#1A1AE6"/>
<circle cx="261.4" cy="108.8" r="1.1" fill="#1A1AE6"/>
<circle cx="263.6" cy="104.3" r="1.1" fill="#1A1AE6"/>
<rect x="202.5" y="34.7" width="145.2" height="105.60000000000001" fill="none" stroke="#9A9A9A" stroke-width="0.7"/>
<rect x="202.5" y="24.3" width="145.2" height="10.4" fill="#D9D9D9" stroke="#8A8A8A" stroke-width="0.7"/>
<text x="275.1" y="32.1" text-anchor="middle" font-family='"Liberation Sans", sans-serif' font-size="6.0" fill="#1a1a1a">Volcano Plot</text>
<text transform="translate(194.6 22.2) scale(0.88 1)" font-family='"Liberation Sans", sans-serif' font-weight="bold" font-size="8.7" fill="#222">B</text>
<line x1="200.5" y1="136.2" x2="202.5" y2="136.2" stroke="#555" stroke-width="0.7"/>
<text x="199.5" y="138.29999999999998" text-anchor="end" font-family='"Liberation Sans", sans-serif' font-size="6" fill="#4d4d4d">0</text>
<line x1="200.5" y1="99.69999999999999" x2="202.5" y2="99.69999999999999" stroke="#555" stroke-width="0.7"/>
<text x="199.5" y="101.79999999999998" text-anchor="end" font-family='"Liberation Sans", sans-serif' font-size="6" fill="#4d4d4d">2</text>
<line x1="200.5" y1="63.19999999999999" x2="202.5" y2="63.19999999999999" stroke="#555" stroke-width="0.7"/>
<text x="199.5" y="65.29999999999998" text-anchor="end" font-family='"Liberation Sans", sans-serif' font-size="6" fill="#4d4d4d">4</text>
<line x1="209.2" y1="140.3" x2="209.2" y2="142.3" stroke="#555" stroke-width="0.7"/>
<text x="209.2" y="148.9" text-anchor="middle" font-family='"Liberation Sans", sans-serif' font-size="6" fill="#4d4d4d">-6</text>
<line x1="242.2" y1="140.3" x2="242.2" y2="142.3" stroke="#555" stroke-width="0.7"/>
<text x="242.2" y="148.9" text-anchor="middle" font-family='"Liberation Sans", sans-serif' font-size="6" fill="#4d4d4d">-3</text>
<line x1="275.2" y1="140.3" x2="275.2" y2="142.3" stroke="#555" stroke-width="0.7"/>
<text x="275.2" y="148.9" text-anchor="middle" font-family='"Liberation Sans", sans-serif' font-size="6" fill="#4d4d4d">0</text>
<line x1="308.2" y1="140.3" x2="308.2" y2="142.3" stroke="#555" stroke-width="0.7"/>
<text x="308.2" y="148.9" text-anchor="middle" font-family='"Liberation Sans", sans-serif' font-size="6" fill="#4d4d4d">3</text>
<line x1="341.2" y1="140.3" x2="341.2" y2="142.3" stroke="#555" stroke-width="0.7"/>
<text x="341.2" y="148.9" text-anchor="middle" font-family='"Liberation Sans", sans-serif' font-size="6" fill="#4d4d4d">6</text>
<text transform="translate(193.2 87) rotate(-90)" text-anchor="middle" font-family='"Liberation Sans", sans-serif' font-size="4.8" fill="#1a1a1a">-log10(p-value)</text>
<text x="278.8" y="166.9" text-anchor="middle" font-family='"Liberation Sans", sans-serif' font-weight="bold" font-size="9.3" fill="#2a2a2a">log2(M-OMV/OMV)</text>
<text x="358.2" y="78.2" font-family='"Liberation Sans", sans-serif' font-size="4.1" fill="#222">Regulated Type</text>
<rect x="361.1" y="82.80000000000001" width="2.2" height="2.2" fill="#B05A50"/>
<text x="367.6" y="85.4" font-family='"Liberation Sans", sans-serif' font-size="4.2" fill="#333">up</text>
<rect x="361.1" y="89.70000000000002" width="2.2" height="2.2" fill="#2A2A7A"/>
<text x="367.6" y="92.30000000000001" font-family='"Liberation Sans", sans-serif' font-size="4.2" fill="#333">down</text>
<rect x="361.1" y="96.60000000000001" width="2.2" height="2.2" fill="#D0D0D0"/>
<text x="367.6" y="99.2" font-family='"Liberation Sans", sans-serif' font-size="4.2" fill="#333">unchange</text>
<rect x="144.00" y="191.90" width="22.70" height="12.29" fill="#0000FF"/>
<rect x="166.10" y="191.90" width="22.70" height="12.29" fill="#BC97FF"/>
<rect x="188.20" y="191.90" width="22.70" height="12.29" fill="#9569FF"/>
<rect x="210.30" y="191.90" width="22.70" height="12.29" fill="#FF4729"/>
<rect x="232.40" y="191.90" width="22.70" height="12.29" fill="#FF0000"/>
<rect x="254.50" y="191.90" width="22.10" height="12.29" fill="#FF7857"/>
<rect x="144.00" y="203.59" width="22.70" height="12.29" fill="#0000FF"/>
<rect x="166.10" y="203.59" width="22.70" height="12.29" fill="#C4A2FF"/>
<rect x="188.20" y="203.59" width="22.70" height="12.29" fill="#E0CBFF"/>
<rect x="210.30" y="203.59" width="22.70" height="12.29" fill="#FF4729"/>
<rect x="232.40" y="203.59" width="22.70" height="12.29" fill="#FF7857"/>
<rect x="254.50" y="203.59" width="22.10" height="12.29" fill="#FF7857"/>
<rect x="144.00" y="215.28" width="22.70" height="12.29" fill="#BEBEBE"/>
<rect x="166.10" y="215.28" width="22.70" height="12.29" fill="#0000FF"/>
<rect x="188.20" y="215.28" width="22.70" height="12.29" fill="#9C70FF"/>
<rect x="210.30" y="215.28" width="22.70" height="12.29" fill="#FCFAFF"/>
<rect x="232.40" y="215.28" width="22.70" height="12.29" fill="#FF0000"/>
<rect x="254.50" y="215.28" width="22.10" height="12.29" fill="#FF5B3A"/>
<rect x="144.00" y="226.97" width="22.70" height="12.29" fill="#F4ECFF"/>
<rect x="166.10" y="226.97" width="22.70" height="12.29" fill="#0000FF"/>
<rect x="188.20" y="226.97" width="22.70" height="12.29" fill="#E6D5FF"/>
<rect x="210.30" y="226.97" width="22.70" height="12.29" fill="#FFCFBF"/>
<rect x="232.40" y="226.97" width="22.70" height="12.29" fill="#FF0000"/>
<rect x="254.50" y="226.97" width="22.10" height="12.29" fill="#A479FF"/>
<rect x="144.00" y="238.66" width="22.70" height="12.29" fill="#FF0000"/>
<rect x="166.10" y="238.66" width="22.70" height="12.29" fill="#6B40FF"/>
<rect x="188.20" y="238.66" width="22.70" height="12.29" fill="#A074FF"/>
<rect x="210.30" y="238.66" width="22.70" height="12.29" fill="#E6D5FF"/>
<rect x="232.40" y="238.66" width="22.70" height="12.29" fill="#FF0000"/>
<rect x="254.50" y="238.66" width="22.10" height="12.29" fill="#9569FF"/>
<rect x="144.00" y="250.35" width="22.70" height="12.29" fill="#FFD9CB"/>
<rect x="166.10" y="250.35" width="22.70" height="12.29" fill="#BEBEBE"/>
<rect x="188.20" y="250.35" width="22.70" height="12.29" fill="#0000FF"/>
<rect x="210.30" y="250.35" width="22.70" height="12.29" fill="#BEBEBE"/>
<rect x="232.40" y="250.35" width="22.70" height="12.29" fill="#FF4D2E"/>
<rect x="254.50" y="250.35" width="22.10" height="12.29" fill="#BEBEBE"/>
<rect x="144.00" y="262.04" width="22.70" height="12.29" fill="#BEBEBE"/>
<rect x="166.10" y="262.04" width="22.70" height="12.29" fill="#FF0000"/>
<rect x="188.20" y="262.04" width="22.70" height="12.29" fill="#8659FF"/>
<rect x="210.30" y="262.04" width="22.70" height="12.29" fill="#8659FF"/>
<rect x="232.40" y="262.04" width="22.70" height="12.29" fill="#BEBEBE"/>
<rect x="254.50" y="262.04" width="22.10" height="12.29" fill="#FFD9CB"/>
<rect x="144.00" y="273.73" width="22.70" height="12.29" fill="#0000FF"/>
<rect x="166.10" y="273.73" width="22.70" height="12.29" fill="#0000FF"/>
<rect x="188.20" y="273.73" width="22.70" height="12.29" fill="#FF0000"/>
<rect x="210.30" y="273.73" width="22.70" height="12.29" fill="#FFE2D8"/>
<rect x="232.40" y="273.73" width="22.70" height="12.29" fill="#FF5636"/>
<rect x="254.50" y="273.73" width="22.10" height="12.29" fill="#FFB299"/>
<rect x="144.00" y="285.42" width="22.70" height="12.29" fill="#0000FF"/>
<rect x="166.10" y="285.42" width="22.70" height="12.29" fill="#A074FF"/>
<rect x="188.20" y="285.42" width="22.70" height="12.29" fill="#FF0000"/>
<rect x="210.30" y="285.42" width="22.70" height="12.29" fill="#FFE8E0"/>
<rect x="232.40" y="285.42" width="22.70" height="12.29" fill="#FFCFBF"/>
<rect x="254.50" y="285.42" width="22.10" height="12.29" fill="#DCC4FF"/>
<rect x="144.00" y="297.11" width="22.70" height="12.29" fill="#BEBEBE"/>
<rect x="166.10" y="297.11" width="22.70" height="12.29" fill="#AA80FF"/>
<rect x="188.20" y="297.11" width="22.70" height="12.29" fill="#FF0000"/>
<rect x="210.30" y="297.11" width="22.70" height="12.29" fill="#0000FF"/>
<rect x="232.40" y="297.11" width="22.70" height="12.29" fill="#DCC4FF"/>
<rect x="254.50" y="297.11" width="22.10" height="12.29" fill="#FF9475"/>
<rect x="144.00" y="308.80" width="22.70" height="12.29" fill="#FFFFFF"/>
<rect x="166.10" y="308.80" width="22.70" height="12.29" fill="#AA80FF"/>
<rect x="188.20" y="308.80" width="22.70" height="12.29" fill="#FF0000"/>
<rect x="210.30" y="308.80" width="22.70" height="12.29" fill="#8659FF"/>
<rect x="232.40" y="308.80" width="22.70" height="12.29" fill="#FFF5F2"/>
<rect x="254.50" y="308.80" width="22.10" height="12.29" fill="#8659FF"/>
<rect x="144.00" y="320.49" width="22.70" height="12.29" fill="#D4B9FF"/>
<rect x="166.10" y="320.49" width="22.70" height="12.29" fill="#AA80FF"/>
<rect x="188.20" y="320.49" width="22.70" height="12.29" fill="#FF0000"/>
<rect x="210.30" y="320.49" width="22.70" height="12.29" fill="#AF87FF"/>
<rect x="232.40" y="320.49" width="22.70" height="12.29" fill="#BC97FF"/>
<rect x="254.50" y="320.49" width="22.10" height="12.29" fill="#DCC4FF"/>
<rect x="144.00" y="332.18" width="22.70" height="12.29" fill="#FFFFFF"/>
<rect x="166.10" y="332.18" width="22.70" height="12.29" fill="#AA80FF"/>
<rect x="188.20" y="332.18" width="22.70" height="12.29" fill="#FF0000"/>
<rect x="210.30" y="332.18" width="22.70" height="12.29" fill="#BEBEBE"/>
<rect x="232.40" y="332.18" width="22.70" height="12.29" fill="#B38BFF"/>
<rect x="254.50" y="332.18" width="22.10" height="12.29" fill="#9C70FF"/>
<rect x="144.00" y="343.87" width="22.70" height="12.29" fill="#FF5636"/>
<rect x="166.10" y="343.87" width="22.70" height="12.29" fill="#FFBCA6"/>
<rect x="188.20" y="343.87" width="22.70" height="12.29" fill="#FF0000"/>
<rect x="210.30" y="343.87" width="22.70" height="12.29" fill="#6B40FF"/>
<rect x="232.40" y="343.87" width="22.70" height="12.29" fill="#DCC4FF"/>
<rect x="254.50" y="343.87" width="22.10" height="12.29" fill="#0000FF"/>
<rect x="144.00" y="355.56" width="22.70" height="12.29" fill="#BEBEBE"/>
<rect x="166.10" y="355.56" width="22.70" height="12.29" fill="#6239FF"/>
<rect x="188.20" y="355.56" width="22.70" height="12.29" fill="#FF0000"/>
<rect x="210.30" y="355.56" width="22.70" height="12.29" fill="#FF1E0C"/>
<rect x="232.40" y="355.56" width="22.70" height="12.29" fill="#8F62FF"/>
<rect x="254.50" y="355.56" width="22.10" height="12.29" fill="#BC97FF"/>
<rect x="144.00" y="367.25" width="22.70" height="12.29" fill="#FF0000"/>
<rect x="166.10" y="367.25" width="22.70" height="12.29" fill="#0000FF"/>
<rect x="188.20" y="367.25" width="22.70" height="12.29" fill="#FF5B3A"/>
<rect x="210.30" y="367.25" width="22.70" height="12.29" fill="#F2E7FF"/>
<rect x="232.40" y="367.25" width="22.70" height="12.29" fill="#C4A2FF"/>
<rect x="254.50" y="367.25" width="22.10" height="12.29" fill="#D4B9FF"/>
<rect x="144.00" y="378.94" width="22.70" height="12.29" fill="#BEBEBE"/>
<rect x="166.10" y="378.94" width="22.70" height="12.29" fill="#0000FF"/>
<rect x="188.20" y="378.94" width="22.70" height="12.29" fill="#FF0000"/>
<rect x="210.30" y="378.94" width="22.70" height="12.29" fill="#FFA88D"/>
<rect x="232.40" y="378.94" width="22.70" height="12.29" fill="#F4ECFF"/>
<rect x="254.50" y="378.94" width="22.10" height="12.29" fill="#D1B4FF"/>
<rect x="144.00" y="390.63" width="22.70" height="12.29" fill="#FF0000"/>
<rect x="166.10" y="390.63" width="22.70" height="12.29" fill="#502BFF"/>
<rect x="188.20" y="390.63" width="22.70" height="12.29" fill="#FF0000"/>
<rect x="210.30" y="390.63" width="22.70" height="12.29" fill="#EFE3FF"/>
<rect x="232.40" y="390.63" width="22.70" height="12.29" fill="#0000FF"/>
<rect x="254.50" y="390.63" width="22.10" height="12.29" fill="#DCC4FF"/>
<rect x="144.00" y="402.32" width="22.70" height="12.29" fill="#FF9E81"/>
<rect x="166.10" y="402.32" width="22.70" height="12.29" fill="#FF0000"/>
<rect x="188.20" y="402.32" width="22.70" height="12.29" fill="#FF603F"/>
<rect x="210.30" y="402.32" width="22.70" height="12.29" fill="#B38BFF"/>
<rect x="232.40" y="402.32" width="22.70" height="12.29" fill="#0000FF"/>
<rect x="254.50" y="402.32" width="22.10" height="12.29" fill="#0000FF"/>
<rect x="144.00" y="414.01" width="22.70" height="12.29" fill="#D4B9FF"/>
<rect x="166.10" y="414.01" width="22.70" height="12.29" fill="#FF0000"/>
<rect x="188.20" y="414.01" width="22.70" height="12.29" fill="#FFBCA6"/>
<rect x="210.30" y="414.01" width="22.70" height="12.29" fill="#AF87FF"/>
<rect x="232.40" y="414.01" width="22.70" height="12.29" fill="#7145FF"/>
<rect x="254.50" y="414.01" width="22.10" height="12.29" fill="#A074FF"/>
<rect x="144.00" y="425.70" width="22.70" height="12.29" fill="#FF0000"/>
<rect x="166.10" y="425.70" width="22.70" height="12.29" fill="#FFCFBF"/>
<rect x="188.20" y="425.70" width="22.70" height="12.29" fill="#D4B9FF"/>
<rect x="210.30" y="425.70" width="22.70" height="12.29" fill="#0000FF"/>
<rect x="232.40" y="425.70" width="22.70" height="12.29" fill="#8A5DFF"/>
<rect x="254.50" y="425.70" width="22.10" height="12.29" fill="#FFFFFF"/>
<rect x="144.00" y="437.39" width="22.70" height="11.69" fill="#FF0000"/>
<rect x="166.10" y="437.39" width="22.70" height="11.69" fill="#BEBEBE"/>
<rect x="188.20" y="437.39" width="22.70" height="11.69" fill="#EFE3FF"/>
<rect x="210.30" y="437.39" width="22.70" height="11.69" fill="#E3D0FF"/>
<rect x="232.40" y="437.39" width="22.70" height="11.69" fill="#D4B9FF"/>
<rect x="254.50" y="437.39" width="22.10" height="11.69" fill="#0000FF"/>
<path d="M144.0 197.745H129V209.435H144.0" fill="none" stroke="#626262" stroke-width="0.75"/>
<path d="M129 203.59H108.7V221.125H144.0" fill="none" stroke="#626262" stroke-width="0.75"/>
<path d="M144.0 232.815H104.5V244.505H144.0" fill="none" stroke="#626262" stroke-width="0.75"/>
<path d="M144.0 256.195H124.6V267.885H144.0" fill="none" stroke="#626262" stroke-width="0.75"/>
<path d="M104.5 238.66H82.6V262.03999999999996H124.6" fill="none" stroke="#626262" stroke-width="0.75"/>
<path d="M108.7 212.35750000000002H81.6V250.34999999999997H82.6" fill="none" stroke="#626262" stroke-width="0.75"/>
<path d="M144.0 279.575H112.4V291.265H144.0" fill="none" stroke="#626262" stroke-width="0.75"/>
<path d="M144.0 326.33500000000004H127.8V338.025H144.0" fill="none" stroke="#626262" stroke-width="0.75"/>
<path d="M144.0 314.645H126.3V332.18H127.8" fill="none" stroke="#626262" stroke-width="0.75"/>
<path d="M144.0 302.955H108V323.4125H126.3" fill="none" stroke="#626262" stroke-width="0.75"/>
<path d="M108 313.18375000000003H99.3V349.71500000000003H144.0" fill="none" stroke="#626262" stroke-width="0.75"/>
<path d="M144.0 373.095H120.2V384.78499999999997H144.0" fill="none" stroke="#626262" stroke-width="0.75"/>
<path d="M120.2 378.94H115V396.475H144.0" fill="none" stroke="#626262" stroke-width="0.75"/>
<path d="M144.0 361.405H113.3V387.7075H115" fill="none" stroke="#626262" stroke-width="0.75"/>
<path d="M99.3 331.44937500000003H94.8V374.55625H113.3" fill="none" stroke="#626262" stroke-width="0.75"/>
<path d="M112.4 285.41999999999996H91.2V353.0028125H94.8" fill="none" stroke="#626262" stroke-width="0.75"/>
<path d="M144.0 408.16499999999996H117.3V419.855H144.0" fill="none" stroke="#626262" stroke-width="0.75"/>
<path d="M144.0 431.54499999999996H105.4V443.235H144.0" fill="none" stroke="#626262" stroke-width="0.75"/>
<path d="M117.3 414.01H88.1V437.39H105.4" fill="none" stroke="#626262" stroke-width="0.75"/>
<path d="M91.2 319.21140625H71.3V425.7H88.1" fill="none" stroke="#626262" stroke-width="0.75"/>
<path d="M81.6 231.35375H60.4V372.455703125H71.3" fill="none" stroke="#626262" stroke-width="0.75"/>
<text transform="translate(157.05 188.6) rotate(-90) scale(1 1.15)" font-family='"Liberation Mono", monospace' font-weight="bold" font-size="4.7" fill="#222">OMV-1</text>
<text transform="translate(179.15 188.6) rotate(-90) scale(1 1.15)" font-family='"Liberation Mono", monospace' font-weight="bold" font-size="4.7" fill="#222">OMV-2</text>
<text transform="translate(201.25 188.6) rotate(-90) scale(1 1.15)" font-family='"Liberation Mono", monospace' font-weight="bold" font-size="4.7" fill="#222">OMV-3</text>
<text transform="translate(223.35 188.6) rotate(-90) scale(1 1.15)" font-family='"Liberation Mono", monospace' font-weight="bold" font-size="4.7" fill="#222">M-OMV-1</text>
<text transform="translate(245.45 188.6) rotate(-90) scale(1 1.15)" font-family='"Liberation Mono", monospace' font-weight="bold" font-size="4.7" fill="#222">M-OMV-2</text>
<text transform="translate(267.55 188.6) rotate(-90) scale(1 1.15)" font-family='"Liberation Mono", monospace' font-weight="bold" font-size="4.7" fill="#222">M-OMV-3</text>
<text transform="translate(278.3 200.25) scale(1 1.15)" font-family='"Liberation Mono", monospace' font-size="3.9" fill="#222">A0A0K3XIB5:KPHS_08070</text>
<text transform="translate(278.3 211.94) scale(1 1.15)" font-family='"Liberation Mono", monospace' font-size="3.9" fill="#222">A0A0E1CMB9:KPN21_03982</text>
<text transform="translate(278.3 223.62) scale(1 1.15)" font-family='"Liberation Mono", monospace' font-size="3.9" fill="#222">A0A0E1XPQ1:KPN21_01783</text>
<text transform="translate(278.3 235.31) scale(1 1.15)" font-family='"Liberation Mono", monospace' font-size="3.9" fill="#222">A0A2I8S5S4:ompK36</text>
<text transform="translate(278.3 247.00) scale(1 1.15)" font-family='"Liberation Mono", monospace' font-size="3.9" fill="#222">E9VMD4:ompK36</text>
<text transform="translate(278.3 258.69) scale(1 1.15)" font-family='"Liberation Mono", monospace' font-size="3.9" fill="#222">A0A7I8D5Z8:blaKPC</text>
<text transform="translate(278.3 270.38) scale(1 1.15)" font-family='"Liberation Mono", monospace' font-size="3.9" fill="#222">A0A378M4E8:mlrP_2</text>
<text transform="translate(278.3 282.07) scale(1 1.15)" font-family='"Liberation Mono", monospace' font-size="3.9" fill="#222">J3QV50:ompK36</text>
<text transform="translate(278.3 293.76) scale(1 1.15)" font-family='"Liberation Mono", monospace' font-size="3.9" fill="#222">A0A4Y5JT01:blaKPC</text>
<text transform="translate(278.3 305.45) scale(1 1.15)" font-family='"Liberation Mono", monospace' font-size="3.9" fill="#222">B5TPM8:oxrA</text>
<text transform="translate(278.3 317.14) scale(1 1.15)" font-family='"Liberation Mono", monospace' font-size="3.9" fill="#222">A0A0E5L1A4:ompK36</text>
<text transform="translate(278.3 328.84) scale(1 1.15)" font-family='"Liberation Mono", monospace' font-size="3.9" fill="#222">A0A346D4X8:ompK36</text>
<text transform="translate(278.3 340.52) scale(1 1.15)" font-family='"Liberation Mono", monospace' font-size="3.9" fill="#222">A0A2Z4G2G2:blaKPC</text>
<text transform="translate(278.3 352.22) scale(1 1.15)" font-family='"Liberation Mono", monospace' font-size="3.9" fill="#222">A0A0K0X0Z0:KPHS_45760</text>
<text transform="translate(278.3 363.90) scale(1 1.15)" font-family='"Liberation Mono", monospace' font-size="3.9" fill="#222">A0A4P9VIA3:ureC</text>
<text transform="translate(278.3 375.60) scale(1 1.15)" font-family='"Liberation Mono", monospace' font-size="3.9" fill="#222">A0A0A8HX51:blaSHV</text>
<text transform="translate(278.3 387.28) scale(1 1.15)" font-family='"Liberation Mono", monospace' font-size="3.9" fill="#222">A0A7S5TML5:blaKPC</text>
<text transform="translate(278.3 398.98) scale(1 1.15)" font-family='"Liberation Mono", monospace' font-size="3.9" fill="#222">A0A0E0S245:macB</text>
<text transform="translate(278.3 410.66) scale(1 1.15)" font-family='"Liberation Mono", monospace' font-size="3.9" fill="#222">A0A0B5VOW8:emrA</text>
<text transform="translate(278.3 422.36) scale(1 1.15)" font-family='"Liberation Mono", monospace' font-size="3.9" fill="#222">A0A2H8JTC4:blaSHV</text>
<text transform="translate(278.3 434.04) scale(1 1.15)" font-family='"Liberation Mono", monospace' font-size="3.9" fill="#222">A0A2H8A6E8:blaKPC</text>
<text transform="translate(278.3 445.74) scale(1 1.15)" font-family='"Liberation Mono", monospace' font-size="3.9" fill="#222">B4VPQ8:ureT</text>
<text transform="translate(65.4 195.6) scale(0.9 1)" font-family='"Liberation Sans", sans-serif' font-weight="bold" font-size="10" fill="#222">C</text>
<linearGradient id="g159" x1="0" x2="1" y1="0" y2="0"><stop offset="0.000" stop-color="#0000FF"/><stop offset="0.025" stop-color="#381BFF"/><stop offset="0.050" stop-color="#502BFF"/><stop offset="0.075" stop-color="#6239FF"/><stop offset="0.100" stop-color="#7145FF"/><stop offset="0.125" stop-color="#7E52FF"/><stop offset="0.150" stop-color="#8A5DFF"/><stop offset="0.175" stop-color="#9569FF"/><stop offset="0.200" stop-color="#A074FF"/><stop offset="0.225" stop-color="#AA80FF"/><stop offset="0.250" stop-color="#B38BFF"/><stop offset="0.275" stop-color="#BC97FF"/><stop offset="0.300" stop-color="#C4A2FF"/><stop offset="0.325" stop-color="#CCADFF"/><stop offset="0.350" stop-color="#D4B9FF"/><stop offset="0.375" stop-color="#DCC4FF"/><stop offset="0.400" stop-color="#E3D0FF"/><stop offset="0.425" stop-color="#EBDCFF"/><stop offset="0.450" stop-color="#F2E7FF"/><stop offset="0.475" stop-color="#F8F3FF"/><stop offset="0.500" stop-color="#FFFFFF"/><stop offset="0.525" stop-color="#FFF5F2"/><stop offset="0.550" stop-color="#FFECE5"/><stop offset="0.575" stop-color="#FFE2D8"/><stop offset="0.600" stop-color="#FFD9CB"/><stop offset="0.625" stop-color="#FFCFBF"/><stop offset="0.650" stop-color="#FFC6B2"/><stop offset="0.675" stop-color="#FFBCA6"/><stop offset="0.700" stop-color="#FFB299"/><stop offset="0.725" stop-color="#FFA88D"/><stop offset="0.750" stop-color="#FF9E81"/><stop offset="0.775" stop-color="#FF9475"/><stop offset="0.800" stop-color="#FF8969"/><stop offset="0.825" stop-color="#FF7E5E"/><stop offset="0.850" stop-color="#FF7352"/><stop offset="0.875" stop-color="#FF6846"/><stop offset="0.900" stop-color="#FF5B3A"/><stop offset="0.925" stop-color="#FF4D2E"/><stop offset="0.950" stop-color="#FF3E22"/><stop offset="0.975" stop-color="#FF2913"/><stop offset="1.000" stop-color="#FF0000"/></linearGradient>
<rect x="159.3" y="452" width="82.9" height="6.8" rx="2" fill="url(#g159)"/>
<text x="159.3" y="465.5" text-anchor="middle" font-family='"Liberation Mono", monospace' font-size="4.6" fill="#333">-1</text>
<text x="180.025" y="465.5" text-anchor="middle" font-family='"Liberation Mono", monospace' font-size="4.6" fill="#333">-0.5</text>
<text x="200.75" y="465.5" text-anchor="middle" font-family='"Liberation Mono", monospace' font-size="4.6" fill="#333">0</text>
<text x="221.47500000000002" y="465.5" text-anchor="middle" font-family='"Liberation Mono", monospace' font-size="4.6" fill="#333">0.5</text>
<text x="242.20000000000002" y="465.5" text-anchor="middle" font-family='"Liberation Mono", monospace' font-size="4.6" fill="#333">1</text>
<rect x="481.60" y="22.20" width="22.50" height="11.79" fill="#BC97FF"/>
<rect x="503.50" y="22.20" width="22.50" height="11.79" fill="#FF0000"/>
<rect x="525.40" y="22.20" width="22.50" height="11.79" fill="#BEBEBE"/>
<rect x="547.30" y="22.20" width="22.50" height="11.79" fill="#BC97FF"/>
<rect x="569.20" y="22.20" width="22.50" height="11.79" fill="#BC97FF"/>
<rect x="591.10" y="22.20" width="21.90" height="11.79" fill="#BC97FF"/>
<rect x="481.60" y="33.39" width="22.50" height="11.79" fill="#BEBEBE"/>
<rect x="503.50" y="33.39" width="22.50" height="11.79" fill="#BEBEBE"/>
<rect x="525.40" y="33.39" width="22.50" height="11.79" fill="#FF0000"/>
<rect x="547.30" y="33.39" width="22.50" height="11.79" fill="#FFECE5"/>
<rect x="569.20" y="33.39" width="22.50" height="11.79" fill="#BC97FF"/>
<rect x="591.10" y="33.39" width="21.90" height="11.79" fill="#0000FF"/>
<rect x="481.60" y="44.58" width="22.50" height="11.79" fill="#FF0000"/>
<rect x="503.50" y="44.58" width="22.50" height="11.79" fill="#6239FF"/>
<rect x="525.40" y="44.58" width="22.50" height="11.79" fill="#FF0000"/>
<rect x="547.30" y="44.58" width="22.50" height="11.79" fill="#F2E7FF"/>
<rect x="569.20" y="44.58" width="22.50" height="11.79" fill="#0000FF"/>
<rect x="591.10" y="44.58" width="21.90" height="11.79" fill="#DCC4FF"/>
<rect x="481.60" y="55.77" width="22.50" height="11.79" fill="#BEBEBE"/>
<rect x="503.50" y="55.77" width="22.50" height="11.79" fill="#FF4427"/>
<rect x="525.40" y="55.77" width="22.50" height="11.79" fill="#BEBEBE"/>
<rect x="547.30" y="55.77" width="22.50" height="11.79" fill="#6B40FF"/>
<rect x="569.20" y="55.77" width="22.50" height="11.79" fill="#6B40FF"/>
<rect x="591.10" y="55.77" width="21.90" height="11.79" fill="#FF6F4D"/>
<rect x="481.60" y="66.96" width="22.50" height="11.79" fill="#BEBEBE"/>
<rect x="503.50" y="66.96" width="22.50" height="11.79" fill="#BEBEBE"/>
<rect x="525.40" y="66.96" width="22.50" height="11.79" fill="#BEBEBE"/>
<rect x="547.30" y="66.96" width="22.50" height="11.79" fill="#8F62FF"/>
<rect x="569.20" y="66.96" width="22.50" height="11.79" fill="#BC97FF"/>
<rect x="591.10" y="66.96" width="21.90" height="11.79" fill="#FF0000"/>
<rect x="481.60" y="78.15" width="22.50" height="11.79" fill="#BC97FF"/>
<rect x="503.50" y="78.15" width="22.50" height="11.79" fill="#0000FF"/>
<rect x="525.40" y="78.15" width="22.50" height="11.79" fill="#FFBCA6"/>
<rect x="547.30" y="78.15" width="22.50" height="11.79" fill="#FF4427"/>
<rect x="569.20" y="78.15" width="22.50" height="11.79" fill="#FF8565"/>
<rect x="591.10" y="78.15" width="21.90" height="11.79" fill="#FFB299"/>
<rect x="481.60" y="89.34" width="22.50" height="11.79" fill="#0000FF"/>
<rect x="503.50" y="89.34" width="22.50" height="11.79" fill="#9569FF"/>
<rect x="525.40" y="89.34" width="22.50" height="11.79" fill="#FFD5C6"/>
<rect x="547.30" y="89.34" width="22.50" height="11.79" fill="#FF1E0C"/>
<rect x="569.20" y="89.34" width="22.50" height="11.79" fill="#FF7857"/>
<rect x="591.10" y="89.34" width="21.90" height="11.79" fill="#FFAE95"/>
<rect x="481.60" y="100.53" width="22.50" height="11.79" fill="#9569FF"/>
<rect x="503.50" y="100.53" width="22.50" height="11.79" fill="#9C70FF"/>
<rect x="525.40" y="100.53" width="22.50" height="11.79" fill="#0000FF"/>
<rect x="547.30" y="100.53" width="22.50" height="11.79" fill="#FFBCA6"/>
<rect x="569.20" y="100.53" width="22.50" height="11.79" fill="#FF6F4D"/>
<rect x="591.10" y="100.53" width="21.90" height="11.79" fill="#FF0000"/>
<rect x="481.60" y="111.72" width="22.50" height="11.79" fill="#0000FF"/>
<rect x="503.50" y="111.72" width="22.50" height="11.79" fill="#8A5DFF"/>
<rect x="525.40" y="111.72" width="22.50" height="11.79" fill="#8A5DFF"/>
<rect x="547.30" y="111.72" width="22.50" height="11.79" fill="#FF0000"/>
<rect x="569.20" y="111.72" width="22.50" height="11.79" fill="#FF0000"/>
<rect x="591.10" y="111.72" width="21.90" height="11.79" fill="#FF6F4D"/>
<rect x="481.60" y="122.91" width="22.50" height="11.79" fill="#6B40FF"/>
<rect x="503.50" y="122.91" width="22.50" height="11.79" fill="#0000FF"/>
<rect x="525.40" y="122.91" width="22.50" height="11.79" fill="#8A5DFF"/>
<rect x="547.30" y="122.91" width="22.50" height="11.79" fill="#FF6846"/>
<rect x="569.20" y="122.91" width="22.50" height="11.79" fill="#FF6846"/>
<rect x="591.10" y="122.91" width="21.90" height="11.79" fill="#FF0000"/>
<rect x="481.60" y="134.10" width="22.50" height="11.79" fill="#0000FF"/>
<rect x="503.50" y="134.10" width="22.50" height="11.79" fill="#381BFF"/>
<rect x="525.40" y="134.10" width="22.50" height="11.79" fill="#AA80FF"/>
<rect x="547.30" y="134.10" width="22.50" height="11.79" fill="#FF6846"/>
<rect x="569.20" y="134.10" width="22.50" height="11.79" fill="#FF6846"/>
<rect x="591.10" y="134.10" width="21.90" height="11.79" fill="#FF0000"/>
<rect x="481.60" y="145.29" width="22.50" height="11.79" fill="#0000FF"/>
<rect x="503.50" y="145.29" width="22.50" height="11.79" fill="#381BFF"/>
<rect x="525.40" y="145.29" width="22.50" height="11.79" fill="#8A5DFF"/>
<rect x="547.30" y="145.29" width="22.50" height="11.79" fill="#FF3E22"/>
<rect x="569.20" y="145.29" width="22.50" height="11.79" fill="#FF6846"/>
<rect x="591.10" y="145.29" width="21.90" height="11.79" fill="#FF2913"/>
<rect x="481.60" y="156.48" width="22.50" height="11.79" fill="#A074FF"/>
<rect x="503.50" y="156.48" width="22.50" height="11.79" fill="#0000FF"/>
<rect x="525.40" y="156.48" width="22.50" height="11.79" fill="#6239FF"/>
<rect x="547.30" y="156.48" width="22.50" height="11.79" fill="#FF4427"/>
<rect x="569.20" y="156.48" width="22.50" height="11.79" fill="#FF6846"/>
<rect x="591.10" y="156.48" width="21.90" height="11.79" fill="#FF0000"/>
<rect x="481.60" y="167.67" width="22.50" height="11.79" fill="#B38BFF"/>
<rect x="503.50" y="167.67" width="22.50" height="11.79" fill="#0000FF"/>
<rect x="525.40" y="167.67" width="22.50" height="11.79" fill="#7145FF"/>
<rect x="547.30" y="167.67" width="22.50" height="11.79" fill="#FF9475"/>
<rect x="569.20" y="167.67" width="22.50" height="11.79" fill="#FF0000"/>
<rect x="591.10" y="167.67" width="21.90" height="11.79" fill="#FF8D6E"/>
<rect x="481.60" y="178.86" width="22.50" height="11.79" fill="#A074FF"/>
<rect x="503.50" y="178.86" width="22.50" height="11.79" fill="#0000FF"/>
<rect x="525.40" y="178.86" width="22.50" height="11.79" fill="#7145FF"/>
<rect x="547.30" y="178.86" width="22.50" height="11.79" fill="#FF8D6E"/>
<rect x="569.20" y="178.86" width="22.50" height="11.79" fill="#FF0000"/>
<rect x="591.10" y="178.86" width="21.90" height="11.79" fill="#FF7857"/>
<rect x="481.60" y="190.05" width="22.50" height="11.79" fill="#B38BFF"/>
<rect x="503.50" y="190.05" width="22.50" height="11.79" fill="#6239FF"/>
<rect x="525.40" y="190.05" width="22.50" height="11.79" fill="#0000FF"/>
<rect x="547.30" y="190.05" width="22.50" height="11.79" fill="#FF8565"/>
<rect x="569.20" y="190.05" width="22.50" height="11.79" fill="#FF0000"/>
<rect x="591.10" y="190.05" width="21.90" height="11.79" fill="#FF4D2E"/>
<rect x="481.60" y="201.24" width="22.50" height="11.79" fill="#8659FF"/>
<rect x="503.50" y="201.24" width="22.50" height="11.79" fill="#0000FF"/>
<rect x="525.40" y="201.24" width="22.50" height="11.79" fill="#A479FF"/>
<rect x="547.30" y="201.24" width="22.50" height="11.79" fill="#FF0000"/>
<rect x="569.20" y="201.24" width="22.50" height="11.79" fill="#FF0000"/>
<rect x="591.10" y="201.24" width="21.90" height="11.79" fill="#FFE8E0"/>
<rect x="481.60" y="212.43" width="22.50" height="11.79" fill="#0000FF"/>
<rect x="503.50" y="212.43" width="22.50" height="11.79" fill="#EBDCFF"/>
<rect x="525.40" y="212.43" width="22.50" height="11.79" fill="#0000FF"/>
<rect x="547.30" y="212.43" width="22.50" height="11.79" fill="#FF0000"/>
<rect x="569.20" y="212.43" width="22.50" height="11.79" fill="#FFB299"/>
<rect x="591.10" y="212.43" width="21.90" height="11.79" fill="#FF4D2E"/>
<rect x="481.60" y="223.62" width="22.50" height="11.19" fill="#0000FF"/>
<rect x="503.50" y="223.62" width="22.50" height="11.19" fill="#FFA88D"/>
<rect x="525.40" y="223.62" width="22.50" height="11.19" fill="#FFD5C6"/>
<rect x="547.30" y="223.62" width="22.50" height="11.19" fill="#D4B9FF"/>
<rect x="569.20" y="223.62" width="22.50" height="11.19" fill="#FF0000"/>
<rect x="591.10" y="223.62" width="21.90" height="11.19" fill="#F8F3FF"/>
<path d="M481.6 27.79H454.4V38.98H481.6" fill="none" stroke="#626262" stroke-width="0.75"/>
<path d="M454.4 33.39H426.8V50.17H481.6" fill="none" stroke="#626262" stroke-width="0.75"/>
<path d="M481.6 61.36H462.6V72.55H481.6" fill="none" stroke="#626262" stroke-width="0.75"/>
<path d="M426.8 41.78H423.3V66.96H462.6" fill="none" stroke="#626262" stroke-width="0.75"/>
<path d="M481.6 83.74H445.5V94.94H481.6" fill="none" stroke="#626262" stroke-width="0.75"/>
<path d="M481.6 128.50H475.8V139.69H481.6" fill="none" stroke="#626262" stroke-width="0.75"/>
<path d="M475.8 134.10H474.0V150.88H481.6" fill="none" stroke="#626262" stroke-width="0.75"/>
<path d="M474.0 142.49H471.5V162.07H481.6" fill="none" stroke="#626262" stroke-width="0.75"/>
<path d="M481.6 117.31H466.3V152.28H471.5" fill="none" stroke="#626262" stroke-width="0.75"/>
<path d="M481.6 173.26H476.8V184.45H481.6" fill="none" stroke="#626262" stroke-width="0.75"/>
<path d="M476.8 178.86H466.8V195.64H481.6" fill="none" stroke="#626262" stroke-width="0.75"/>
<path d="M466.8 187.25H462.3V206.83H481.6" fill="none" stroke="#626262" stroke-width="0.75"/>
<path d="M466.3 134.80H460.1V197.04H462.3" fill="none" stroke="#626262" stroke-width="0.75"/>
<path d="M481.6 106.12H456.4V165.92H460.1" fill="none" stroke="#626262" stroke-width="0.75"/>
<path d="M456.4 136.02H452.8V218.02H481.6" fill="none" stroke="#626262" stroke-width="0.75"/>
<path d="M445.5 89.34H442.7V177.02H452.8" fill="none" stroke="#626262" stroke-width="0.75"/>
<path d="M442.7 133.18H423.7V229.21H481.6" fill="none" stroke="#626262" stroke-width="0.75"/>
<path d="M423.3 54.37H398.6V181.20H423.7" fill="none" stroke="#626262" stroke-width="0.75"/>
<text transform="translate(495.15 20.2) rotate(-90) scale(1 1.15)" font-family='"Liberation Mono", monospace' font-weight="bold" font-size="4.8" fill="#222">OMV-1</text>
<text transform="translate(517.05 20.2) rotate(-90) scale(1 1.15)" font-family='"Liberation Mono", monospace' font-weight="bold" font-size="4.8" fill="#222">OMV-2</text>
<text transform="translate(538.95 20.2) rotate(-90) scale(1 1.15)" font-family='"Liberation Mono", monospace' font-weight="bold" font-size="4.8" fill="#222">OMV-3</text>
<text transform="translate(560.85 20.2) rotate(-90) scale(1 1.15)" font-family='"Liberation Mono", monospace' font-weight="bold" font-size="4.8" fill="#222">M-OMV-1</text>
<text transform="translate(582.75 20.2) rotate(-90) scale(1 1.15)" font-family='"Liberation Mono", monospace' font-weight="bold" font-size="4.8" fill="#222">M-OMV-2</text>
<text transform="translate(604.65 20.2) rotate(-90) scale(1 1.15)" font-family='"Liberation Mono", monospace' font-weight="bold" font-size="4.8" fill="#222">M-OMV-3</text>
<text transform="translate(615 30.49) scale(1 1.15)" font-family='"Liberation Mono", monospace' font-size="3.9" fill="#222">W8CDD4:ompA</text>
<text transform="translate(615 41.69) scale(1 1.15)" font-family='"Liberation Mono", monospace' font-size="3.9" fill="#222">A0A378C1T7:OPPA</text>
<text transform="translate(615 52.88) scale(1 1.15)" font-family='"Liberation Mono", monospace' font-size="3.9" fill="#222">A0A0H3JJ45:macB</text>
<text transform="translate(615 64.06) scale(1 1.15)" font-family='"Liberation Mono", monospace' font-size="3.9" fill="#222">A0A377WNN2:ompA</text>
<text transform="translate(615 75.25) scale(1 1.15)" font-family='"Liberation Mono", monospace' font-size="3.9" fill="#222">A0A2Z4QR96:ompA</text>
<text transform="translate(615 86.44) scale(1 1.15)" font-family='"Liberation Mono", monospace' font-size="3.9" fill="#222">Q8GN07:lutA</text>
<text transform="translate(615 97.64) scale(1 1.15)" font-family='"Liberation Mono", monospace' font-size="3.9" fill="#222">A0A0H3YCJ3:ompA</text>
<text transform="translate(615 108.83) scale(1 1.15)" font-family='"Liberation Mono", monospace' font-size="3.9" fill="#222">A0A0E1CDT2:KPN21_00962</text>
<text transform="translate(615 120.02) scale(1 1.15)" font-family='"Liberation Mono", monospace' font-size="3.9" fill="#222">A0A0E1CFC5:Pyk</text>
<text transform="translate(615 131.20) scale(1 1.15)" font-family='"Liberation Mono", monospace' font-size="3.9" fill="#222">A0A0E1CWN1:RpoB</text>
<text transform="translate(615 142.39) scale(1 1.15)" font-family='"Liberation Mono", monospace' font-size="3.9" fill="#222">A0A7U7I7P4:LptB</text>
<text transform="translate(615 153.58) scale(1 1.15)" font-family='"Liberation Mono", monospace' font-size="3.9" fill="#222">A0A0E1CTS2:KPN21_00416</text>
<text transform="translate(615 164.77) scale(1 1.15)" font-family='"Liberation Mono", monospace' font-size="3.9" fill="#222">A0A0E1CL24:PYI</text>
<text transform="translate(615 175.96) scale(1 1.15)" font-family='"Liberation Mono", monospace' font-size="3.9" fill="#222">A0A377ZFS7:SDy</text>
<text transform="translate(615 187.15) scale(1 1.15)" font-family='"Liberation Mono", monospace' font-size="3.9" fill="#222">A0A0C2L_J82:fumA</text>
<text transform="translate(615 198.34) scale(1 1.15)" font-family='"Liberation Mono", monospace' font-size="3.9" fill="#222">A0A2H3PCF9:manB</text>
<text transform="translate(615 209.53) scale(1 1.15)" font-family='"Liberation Mono", monospace' font-size="3.9" fill="#222">A0T7I0:MukB</text>
<text transform="translate(615 220.72) scale(1 1.15)" font-family='"Liberation Mono", monospace' font-size="3.9" fill="#222">B1Q2F2:rmrB</text>
<text transform="translate(615 231.91) scale(1 1.15)" font-family='"Liberation Mono", monospace' font-size="3.9" fill="#222">A0A0E1LNZ1:OPPA</text>
<text transform="translate(400.5 16.6) scale(0.92 1)" font-family='"Liberation Sans", sans-serif' font-weight="bold" font-size="9.8" fill="#222">D</text>
<linearGradient id="g496" x1="0" x2="1" y1="0" y2="0"><stop offset="0.000" stop-color="#0000FF"/><stop offset="0.025" stop-color="#381BFF"/><stop offset="0.050" stop-color="#502BFF"/><stop offset="0.075" stop-color="#6239FF"/><stop offset="0.100" stop-color="#7145FF"/><stop offset="0.125" stop-color="#7E52FF"/><stop offset="0.150" stop-color="#8A5DFF"/><stop offset="0.175" stop-color="#9569FF"/><stop offset="0.200" stop-color="#A074FF"/><stop offset="0.225" stop-color="#AA80FF"/><stop offset="0.250" stop-color="#B38BFF"/><stop offset="0.275" stop-color="#BC97FF"/><stop offset="0.300" stop-color="#C4A2FF"/><stop offset="0.325" stop-color="#CCADFF"/><stop offset="0.350" stop-color="#D4B9FF"/><stop offset="0.375" stop-color="#DCC4FF"/><stop offset="0.400" stop-color="#E3D0FF"/><stop offset="0.425" stop-color="#EBDCFF"/><stop offset="0.450" stop-color="#F2E7FF"/><stop offset="0.475" stop-color="#F8F3FF"/><stop offset="0.500" stop-color="#FFFFFF"/><stop offset="0.525" stop-color="#FFF5F2"/><stop offset="0.550" stop-color="#FFECE5"/><stop offset="0.575" stop-color="#FFE2D8"/><stop offset="0.600" stop-color="#FFD9CB"/><stop offset="0.625" stop-color="#FFCFBF"/><stop offset="0.650" stop-color="#FFC6B2"/><stop offset="0.675" stop-color="#FFBCA6"/><stop offset="0.700" stop-color="#FFB299"/><stop offset="0.725" stop-color="#FFA88D"/><stop offset="0.750" stop-color="#FF9E81"/><stop offset="0.775" stop-color="#FF9475"/><stop offset="0.800" stop-color="#FF8969"/><stop offset="0.825" stop-color="#FF7E5E"/><stop offset="0.850" stop-color="#FF7352"/><stop offset="0.875" stop-color="#FF6846"/><stop offset="0.900" stop-color="#FF5B3A"/><stop offset="0.925" stop-color="#FF4D2E"/><stop offset="0.950" stop-color="#FF3E22"/><stop offset="0.975" stop-color="#FF2913"/><stop offset="1.000" stop-color="#FF0000"/></linearGradient>
<rect x="496.4" y="238.8" width="82.8" height="7" rx="2" fill="url(#g496)"/>
<text x="496.4" y="252" text-anchor="middle" font-family='"Liberation Mono", monospace' font-size="4.6" fill="#333">-1</text>
<text x="517.1" y="252" text-anchor="middle" font-family='"Liberation Mono", monospace' font-size="4.6" fill="#333">-0.5</text>
<text x="537.8" y="252" text-anchor="middle" font-family='"Liberation Mono", monospace' font-size="4.6" fill="#333">0</text>
<text x="558.5" y="252" text-anchor="middle" font-family='"Liberation Mono", monospace' font-size="4.6" fill="#333">0.5</text>
<text x="579.1999999999999" y="252" text-anchor="middle" font-family='"Liberation Mono", monospace' font-size="4.6" fill="#333">1</text>
<rect x="432.00" y="320.50" width="30.07" height="52.60" fill="#6239FF"/>
<rect x="461.47" y="320.50" width="30.07" height="52.60" fill="#0000FF"/>
<rect x="490.94" y="320.50" width="30.07" height="52.60" fill="#C4A2FF"/>
<rect x="520.41" y="320.50" width="30.07" height="52.60" fill="#FF0000"/>
<rect x="549.88" y="320.50" width="30.07" height="52.60" fill="#FF7857"/>
<rect x="579.35" y="320.50" width="29.47" height="52.60" fill="#FF5B3A"/>
<rect x="432.00" y="372.50" width="30.07" height="52.00" fill="#BEBEBE"/>
<rect x="461.47" y="372.50" width="30.07" height="52.00" fill="#0000FF"/>
<rect x="490.94" y="372.50" width="30.07" height="52.00" fill="#B38BFF"/>
<rect x="520.41" y="372.50" width="30.07" height="52.00" fill="#BEBEBE"/>
<rect x="549.88" y="372.50" width="30.07" height="52.00" fill="#FF603F"/>
<rect x="579.35" y="372.50" width="29.47" height="52.00" fill="#FF5B3A"/>
<path d="M432 346.5H397.6V398.5H432" fill="none" stroke="#444" stroke-width="1.0"/>
<text transform="translate(449.74 318.0) rotate(-90)" font-family='"Liberation Sans", sans-serif' font-size="8.1" fill="#222">OMV-1</text>
<text transform="translate(479.20 318.0) rotate(-90)" font-family='"Liberation Sans", sans-serif' font-size="8.1" fill="#222">OMV-2</text>
<text transform="translate(508.68 318.0) rotate(-90)" font-family='"Liberation Sans", sans-serif' font-size="8.1" fill="#222">OMV-3</text>
<text transform="translate(538.14 318.0) rotate(-90)" font-family='"Liberation Sans", sans-serif' font-size="8.1" fill="#222">M-OMV-1</text>
<text transform="translate(567.62 318.0) rotate(-90)" font-family='"Liberation Sans", sans-serif' font-size="8.1" fill="#222">M-OMV-2</text>
<text transform="translate(597.09 318.0) rotate(-90)" font-family='"Liberation Sans", sans-serif' font-size="8.1" fill="#222">M-OMV-3</text>
<text x="611" y="348.9" font-family='"Liberation Sans", sans-serif' font-size="6.6" fill="#111">groEL</text>
<text x="611" y="400.9" font-family='"Liberation Sans", sans-serif' font-size="6.6" fill="#111">groL_2</text>
<text transform="translate(415.6 293.8) scale(0.72 1)" font-family='"Liberation Sans", sans-serif' font-weight="bold" font-size="8" fill="#111">E</text>
<linearGradient id="g460" x1="0" x2="1" y1="0" y2="0"><stop offset="0.000" stop-color="#0000FF"/><stop offset="0.025" stop-color="#381BFF"/><stop offset="0.050" stop-color="#502BFF"/><stop offset="0.075" stop-color="#6239FF"/><stop offset="0.100" stop-color="#7145FF"/><stop offset="0.125" stop-color="#7E52FF"/><stop offset="0.150" stop-color="#8A5DFF"/><stop offset="0.175" stop-color="#9569FF"/><stop offset="0.200" stop-color="#A074FF"/><stop offset="0.225" stop-color="#AA80FF"/><stop offset="0.250" stop-color="#B38BFF"/><stop offset="0.275" stop-color="#BC97FF"/><stop offset="0.300" stop-color="#C4A2FF"/><stop offset="0.325" stop-color="#CCADFF"/><stop offset="0.350" stop-color="#D4B9FF"/><stop offset="0.375" stop-color="#DCC4FF"/><stop offset="0.400" stop-color="#E3D0FF"/><stop offset="0.425" stop-color="#EBDCFF"/><stop offset="0.450" stop-color="#F2E7FF"/><stop offset="0.475" stop-color="#F8F3FF"/><stop offset="0.500" stop-color="#FFFFFF"/><stop offset="0.525" stop-color="#FFF5F2"/><stop offset="0.550" stop-color="#FFECE5"/><stop offset="0.575" stop-color="#FFE2D8"/><stop offset="0.600" stop-color="#FFD9CB"/><stop offset="0.625" stop-color="#FFCFBF"/><stop offset="0.650" stop-color="#FFC6B2"/><stop offset="0.675" stop-color="#FFBCA6"/><stop offset="0.700" stop-color="#FFB299"/><stop offset="0.725" stop-color="#FFA88D"/><stop offset="0.750" stop-color="#FF9E81"/><stop offset="0.775" stop-color="#FF9475"/><stop offset="0.800" stop-color="#FF8969"/><stop offset="0.825" stop-color="#FF7E5E"/><stop offset="0.850" stop-color="#FF7352"/><stop offset="0.875" stop-color="#FF6846"/><stop offset="0.900" stop-color="#FF5B3A"/><stop offset="0.925" stop-color="#FF4D2E"/><stop offset="0.950" stop-color="#FF3E22"/><stop offset="0.975" stop-color="#FF2913"/><stop offset="1.000" stop-color="#FF0000"/></linearGradient>
<rect x="460.1" y="429.3" width="110.9" height="8.3" rx="0" fill="url(#g460)"/>
<line x1="460.1" y1="429.3" x2="460.1" y2="430.8" stroke="#fff" stroke-width="0.5"/>
<line x1="460.1" y1="436.1" x2="460.1" y2="437.6" stroke="#fff" stroke-width="0.5"/>
<text x="460.1" y="446.2" text-anchor="middle" font-family='"Liberation Sans", sans-serif' font-size="7.4" fill="#333">-1</text>
<line x1="487.82500000000005" y1="429.3" x2="487.82500000000005" y2="430.8" stroke="#fff" stroke-width="0.5"/>
<line x1="487.82500000000005" y1="436.1" x2="487.82500000000005" y2="437.6" stroke="#fff" stroke-width="0.5"/>
<text x="487.82500000000005" y="446.2" text-anchor="middle" font-family='"Liberation Sans", sans-serif' font-size="7.4" fill="#333">-0.5</text>
<line x1="515.5500000000001" y1="429.3" x2="515.5500000000001" y2="430.8" stroke="#fff" stroke-width="0.5"/>
<line x1="515.5500000000001" y1="436.1" x2="515.5500000000001" y2="437.6" stroke="#fff" stroke-width="0.5"/>
<text x="515.5500000000001" y="446.2" text-anchor="middle" font-family='"Liberation Sans", sans-serif' font-size="7.4" fill="#333">0</text>
<line x1="543.2750000000001" y1="429.3" x2="543.2750000000001" y2="430.8" stroke="#fff" stroke-width="0.5"/>
<line x1="543.2750000000001" y1="436.1" x2="543.2750000000001" y2="437.6" stroke="#fff" stroke-width="0.5"/>
<text x="543.2750000000001" y="446.2" text-anchor="middle" font-family='"Liberation Sans", sans-serif' font-size="7.4" fill="#333">0.5</text>
<line x1="571.0" y1="429.3" x2="571.0" y2="430.8" stroke="#fff" stroke-width="0.5"/>
<line x1="571.0" y1="436.1" x2="571.0" y2="437.6" stroke="#fff" stroke-width="0.5"/>
<text x="571.0" y="446.2" text-anchor="middle" font-family='"Liberation Sans", sans-serif' font-size="7.4" fill="#333">1</text>
</svg>
</body></html>
